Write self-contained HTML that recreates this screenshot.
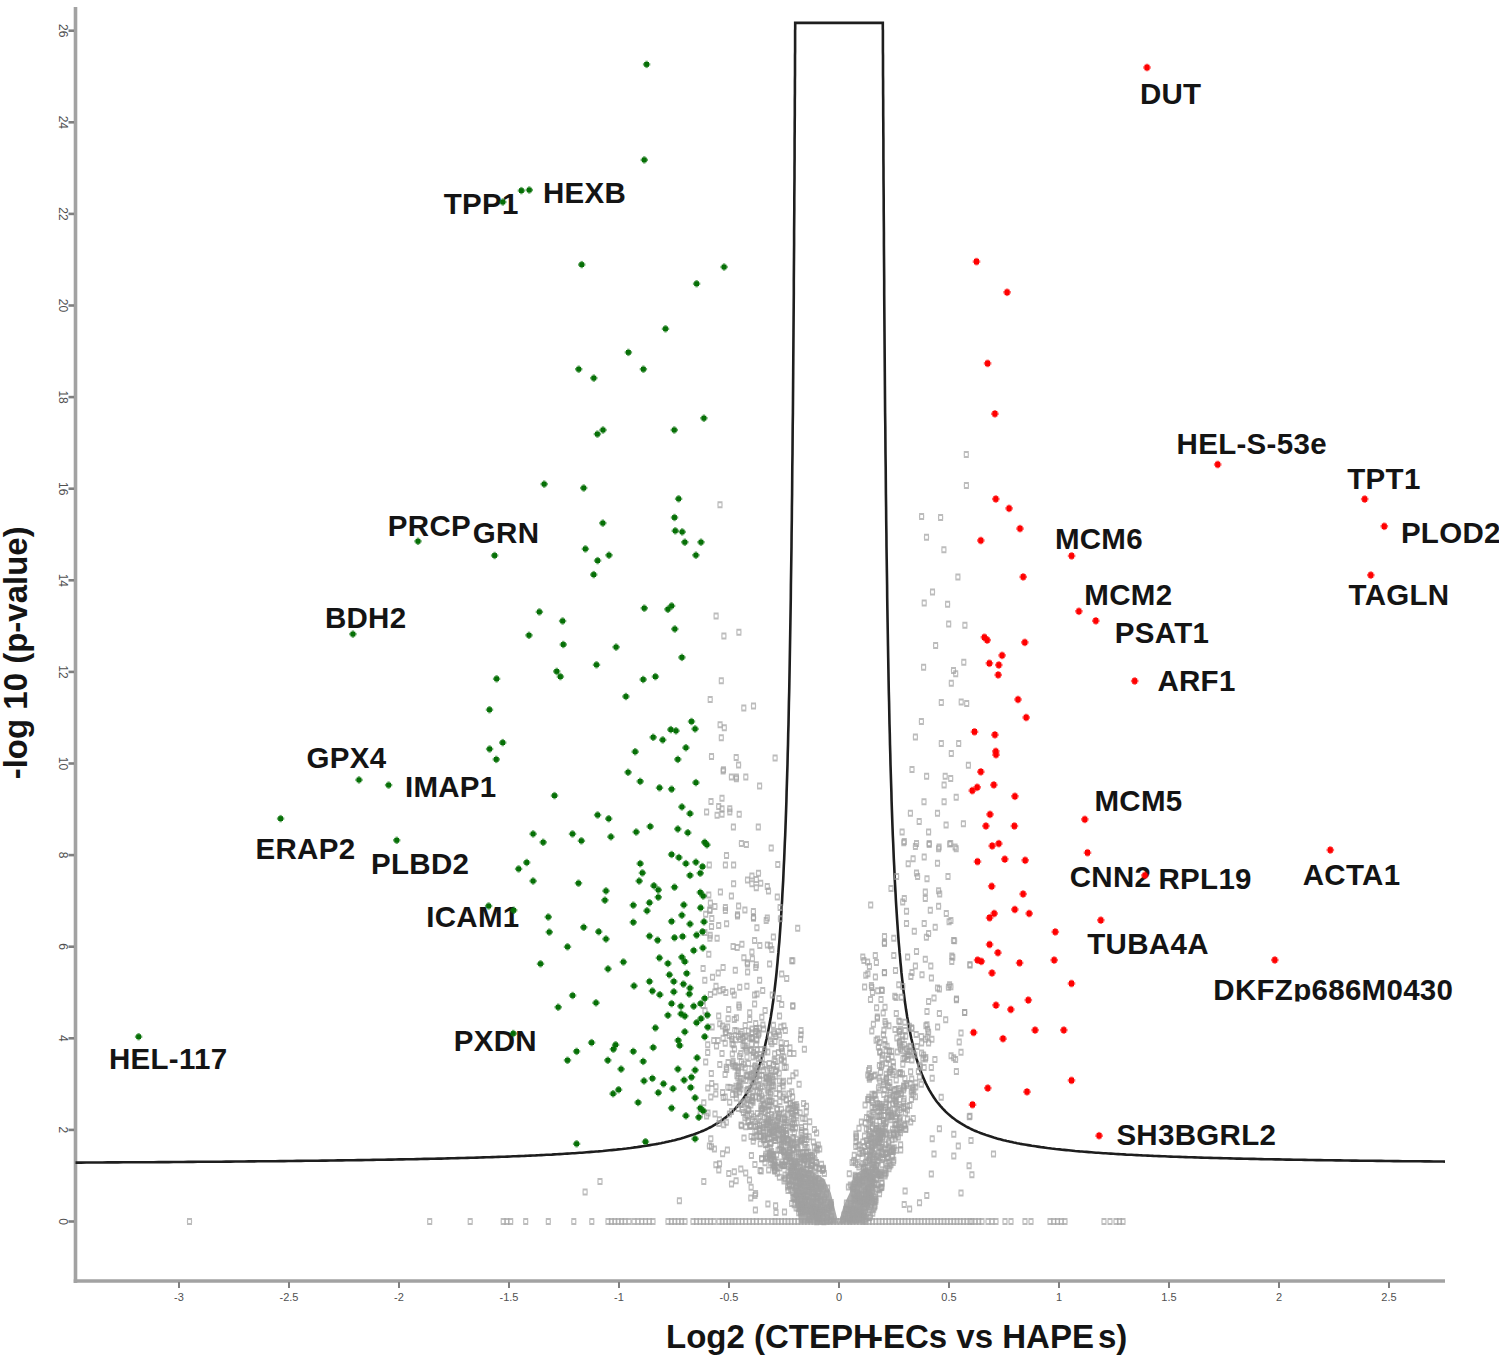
<!DOCTYPE html><html><head><meta charset="utf-8"><style>html,body{margin:0;padding:0;background:#fff;width:1499px;height:1358px;overflow:hidden}svg{display:block}text{font-family:"Liberation Sans",sans-serif}</style></head><body>
<svg width="1499" height="1358" viewBox="0 0 1499 1358">
<defs><g id="g"><rect x="-2.4" y="-2.4" width="4.8" height="4.8"/><rect x="-3.7" y="-1.2" width="7.4" height="2.4" opacity="0.6"/><rect x="-1.2" y="-3.7" width="2.4" height="7.4" opacity="0.6"/></g><g id="r"><rect x="-2.5" y="-2.8" width="5" height="5.6"/><rect x="-3.8" y="-1.3" width="7.6" height="2.6" opacity="0.6"/><rect x="-1.3" y="-3.8" width="2.6" height="7.6" opacity="0.6"/></g><path id="o" d="M-2.5,-3.5h5v2h-5z M-2.5,1.5h5v2h-5z M-2.6,-1.5h1.2v3h-1.2z M1.4,-1.5h1.2v3h-1.2z"/><clipPath id="clp"><rect x="1200" y="960" width="299" height="41.5"/></clipPath></defs>
<g stroke="#a2a2a2" stroke-width="3.6" fill="none">
<line x1="75.5" y1="7" x2="75.5" y2="1283"/>
<line x1="73.7" y1="1281" x2="1445" y2="1281"/>
</g>
<g stroke="#808080" stroke-width="2.6">
<line x1="68.5" y1="1221.5" x2="74" y2="1221.5"/>
<line x1="68.5" y1="1129.9" x2="74" y2="1129.9"/>
<line x1="68.5" y1="1038.3" x2="74" y2="1038.3"/>
<line x1="68.5" y1="946.7" x2="74" y2="946.7"/>
<line x1="68.5" y1="855.1" x2="74" y2="855.1"/>
<line x1="68.5" y1="763.5" x2="74" y2="763.5"/>
<line x1="68.5" y1="671.9" x2="74" y2="671.9"/>
<line x1="68.5" y1="580.3" x2="74" y2="580.3"/>
<line x1="68.5" y1="488.7" x2="74" y2="488.7"/>
<line x1="68.5" y1="397.1" x2="74" y2="397.1"/>
<line x1="68.5" y1="305.5" x2="74" y2="305.5"/>
<line x1="68.5" y1="213.9" x2="74" y2="213.9"/>
<line x1="68.5" y1="122.3" x2="74" y2="122.3"/>
<line x1="68.5" y1="30.7" x2="74" y2="30.7"/>
<line x1="179.0" y1="1282" x2="179.0" y2="1288" stroke-width="2"/>
<line x1="289.0" y1="1282" x2="289.0" y2="1288" stroke-width="2"/>
<line x1="399.0" y1="1282" x2="399.0" y2="1288" stroke-width="2"/>
<line x1="509.0" y1="1282" x2="509.0" y2="1288" stroke-width="2"/>
<line x1="619.0" y1="1282" x2="619.0" y2="1288" stroke-width="2"/>
<line x1="729.0" y1="1282" x2="729.0" y2="1288" stroke-width="2"/>
<line x1="839.0" y1="1282" x2="839.0" y2="1288" stroke-width="2"/>
<line x1="949.0" y1="1282" x2="949.0" y2="1288" stroke-width="2"/>
<line x1="1059.0" y1="1282" x2="1059.0" y2="1288" stroke-width="2"/>
<line x1="1169.0" y1="1282" x2="1169.0" y2="1288" stroke-width="2"/>
<line x1="1279.0" y1="1282" x2="1279.0" y2="1288" stroke-width="2"/>
<line x1="1389.0" y1="1282" x2="1389.0" y2="1288" stroke-width="2"/>
</g>
<g font-size="11" fill="#505050">
<text transform="translate(59,1221.5) rotate(90)" text-anchor="middle" font-size="12">0</text>
<text transform="translate(59,1129.9) rotate(90)" text-anchor="middle" font-size="12">2</text>
<text transform="translate(59,1038.3) rotate(90)" text-anchor="middle" font-size="12">4</text>
<text transform="translate(59,946.7) rotate(90)" text-anchor="middle" font-size="12">6</text>
<text transform="translate(59,855.1) rotate(90)" text-anchor="middle" font-size="12">8</text>
<text transform="translate(59,763.5) rotate(90)" text-anchor="middle" font-size="12">10</text>
<text transform="translate(59,671.9) rotate(90)" text-anchor="middle" font-size="12">12</text>
<text transform="translate(59,580.3) rotate(90)" text-anchor="middle" font-size="12">14</text>
<text transform="translate(59,488.7) rotate(90)" text-anchor="middle" font-size="12">16</text>
<text transform="translate(59,397.1) rotate(90)" text-anchor="middle" font-size="12">18</text>
<text transform="translate(59,305.5) rotate(90)" text-anchor="middle" font-size="12">20</text>
<text transform="translate(59,213.9) rotate(90)" text-anchor="middle" font-size="12">22</text>
<text transform="translate(59,122.3) rotate(90)" text-anchor="middle" font-size="12">24</text>
<text transform="translate(59,30.7) rotate(90)" text-anchor="middle" font-size="12">26</text>
<text x="179.0" y="1301" text-anchor="middle">-3</text>
<text x="289.0" y="1301" text-anchor="middle">-2.5</text>
<text x="399.0" y="1301" text-anchor="middle">-2</text>
<text x="509.0" y="1301" text-anchor="middle">-1.5</text>
<text x="619.0" y="1301" text-anchor="middle">-1</text>
<text x="729.0" y="1301" text-anchor="middle">-0.5</text>
<text x="839.0" y="1301" text-anchor="middle">0</text>
<text x="949.0" y="1301" text-anchor="middle">0.5</text>
<text x="1059.0" y="1301" text-anchor="middle">1</text>
<text x="1169.0" y="1301" text-anchor="middle">1.5</text>
<text x="1279.0" y="1301" text-anchor="middle">2</text>
<text x="1389.0" y="1301" text-anchor="middle">2.5</text>
</g>
<path d="M75.5,1162.6 L75.6,1162.6 L81.0,1162.6 L86.4,1162.5 L91.7,1162.5 L97.0,1162.5 L102.3,1162.5 L107.6,1162.4 L112.8,1162.4 L118.0,1162.4 L123.2,1162.3 L128.4,1162.3 L133.5,1162.3 L138.6,1162.2 L143.7,1162.2 L148.7,1162.2 L153.7,1162.2 L158.7,1162.1 L163.7,1162.1 L168.7,1162.1 L173.6,1162.0 L178.5,1162.0 L183.3,1162.0 L188.2,1161.9 L193.0,1161.9 L197.8,1161.8 L202.6,1161.8 L207.3,1161.8 L212.0,1161.7 L216.7,1161.7 L221.4,1161.7 L226.0,1161.6 L230.6,1161.6 L235.2,1161.5 L239.8,1161.5 L244.3,1161.5 L248.8,1161.4 L253.3,1161.4 L257.8,1161.3 L262.2,1161.3 L266.7,1161.2 L271.0,1161.2 L275.4,1161.2 L279.8,1161.1 L284.1,1161.1 L288.4,1161.0 L292.6,1161.0 L296.9,1160.9 L301.1,1160.9 L305.3,1160.8 L309.5,1160.8 L313.6,1160.7 L317.8,1160.7 L321.9,1160.6 L325.9,1160.6 L330.0,1160.5 L334.0,1160.5 L338.0,1160.4 L342.0,1160.4 L346.0,1160.3 L349.9,1160.3 L353.9,1160.2 L357.7,1160.1 L361.6,1160.1 L365.5,1160.0 L369.3,1160.0 L373.1,1159.9 L376.9,1159.8 L380.6,1159.8 L384.4,1159.7 L388.1,1159.6 L391.8,1159.6 L395.4,1159.5 L399.1,1159.4 L402.7,1159.4 L406.3,1159.3 L409.9,1159.2 L413.4,1159.2 L417.0,1159.1 L420.5,1159.0 L424.0,1158.9 L427.4,1158.9 L430.9,1158.8 L434.3,1158.7 L437.7,1158.6 L441.1,1158.6 L444.5,1158.5 L447.8,1158.4 L451.1,1158.3 L454.4,1158.2 L457.7,1158.1 L461.0,1158.0 L464.2,1158.0 L467.4,1157.9 L470.6,1157.8 L473.8,1157.7 L476.9,1157.6 L480.0,1157.5 L483.2,1157.4 L486.2,1157.3 L489.3,1157.2 L492.4,1157.1 L495.4,1157.0 L498.4,1156.9 L501.4,1156.8 L504.4,1156.7 L507.3,1156.6 L510.2,1156.5 L513.1,1156.3 L516.0,1156.2 L518.9,1156.1 L521.7,1156.0 L524.6,1155.9 L527.4,1155.7 L530.2,1155.6 L532.9,1155.5 L535.7,1155.4 L538.4,1155.2 L541.1,1155.1 L543.8,1155.0 L546.5,1154.8 L549.2,1154.7 L551.8,1154.6 L554.4,1154.4 L557.0,1154.3 L559.6,1154.1 L562.1,1154.0 L564.7,1153.8 L567.2,1153.6 L569.7,1153.5 L572.2,1153.3 L574.7,1153.2 L577.1,1153.0 L579.6,1152.8 L582.0,1152.7 L584.4,1152.5 L586.7,1152.3 L589.1,1152.1 L591.4,1151.9 L593.8,1151.7 L596.1,1151.5 L598.4,1151.4 L600.6,1151.2 L602.9,1151.0 L605.1,1150.7 L607.3,1150.5 L609.5,1150.3 L611.7,1150.1 L613.9,1149.9 L616.0,1149.7 L618.2,1149.4 L620.3,1149.2 L622.4,1149.0 L624.5,1148.7 L626.5,1148.5 L628.6,1148.2 L630.6,1148.0 L632.6,1147.7 L634.6,1147.4 L636.6,1147.2 L638.6,1146.9 L640.5,1146.6 L642.5,1146.3 L644.4,1146.0 L646.3,1145.8 L648.2,1145.4 L650.0,1145.1 L651.9,1144.8 L653.7,1144.5 L655.5,1144.2 L657.3,1143.9 L659.1,1143.5 L660.9,1143.2 L662.7,1142.8 L664.4,1142.5 L666.1,1142.1 L667.9,1141.7 L669.6,1141.3 L671.2,1141.0 L672.9,1140.6 L674.6,1140.2 L676.2,1139.7 L677.8,1139.3 L679.4,1138.9 L681.0,1138.5 L682.6,1138.0 L684.2,1137.6 L685.7,1137.1 L687.2,1136.6 L688.8,1136.1 L690.3,1135.6 L691.8,1135.1 L693.2,1134.6 L694.7,1134.1 L696.1,1133.5 L697.6,1133.0 L699.0,1132.4 L700.4,1131.9 L701.8,1131.3 L703.2,1130.7 L704.6,1130.1 L705.9,1129.5 L707.2,1128.8 L708.6,1128.2 L709.9,1127.5 L711.2,1126.8 L712.5,1126.1 L713.7,1125.4 L715.0,1124.7 L716.2,1123.9 L717.5,1123.2 L718.7,1122.4 L719.9,1121.6 L721.1,1120.8 L722.3,1120.0 L723.5,1119.1 L724.6,1118.2 L725.8,1117.4 L726.9,1116.4 L728.0,1115.5 L729.1,1114.6 L730.2,1113.6 L731.3,1112.6 L732.4,1111.6 L733.4,1110.5 L734.5,1109.4 L735.5,1108.4 L736.5,1107.2 L737.5,1106.1 L738.5,1104.9 L739.5,1103.7 L740.5,1102.5 L741.5,1101.2 L742.4,1099.9 L743.4,1098.6 L744.3,1097.2 L745.2,1095.8 L746.1,1094.4 L747.0,1092.9 L747.9,1091.4 L748.8,1089.9 L749.6,1088.3 L750.5,1086.7 L751.3,1085.0 L752.2,1083.3 L753.0,1081.6 L753.8,1079.8 L754.6,1078.0 L755.4,1076.1 L756.2,1074.2 L756.9,1072.2 L757.7,1070.2 L758.5,1068.1 L759.2,1066.0 L759.9,1063.8 L760.6,1061.5 L761.4,1059.2 L762.1,1056.9 L762.7,1054.4 L763.4,1051.9 L764.1,1049.4 L764.8,1046.8 L765.4,1044.1 L766.0,1041.3 L766.7,1038.5 L767.3,1035.6 L767.9,1032.6 L768.5,1029.5 L769.1,1026.3 L769.7,1023.1 L770.3,1019.8 L770.9,1016.4 L771.4,1012.9 L772.0,1009.3 L772.5,1005.6 L773.1,1001.8 L773.6,997.9 L774.1,993.9 L774.6,989.8 L775.1,985.5 L775.6,981.2 L776.1,976.8 L776.6,972.2 L777.0,967.5 L777.5,962.7 L777.9,957.7 L778.4,952.7 L778.8,947.5 L779.3,942.1 L779.7,936.6 L780.1,931.0 L780.5,925.2 L780.9,919.3 L781.3,913.2 L781.7,906.9 L782.1,900.5 L782.4,894.0 L782.8,887.2 L783.2,880.3 L783.5,873.3 L783.8,866.0 L784.2,858.6 L784.5,851.0 L784.8,843.2 L785.2,835.2 L785.5,827.0 L785.8,818.6 L786.1,810.1 L786.4,801.3 L786.6,792.4 L786.9,783.2 L787.2,773.9 L787.5,764.3 L787.7,754.6 L788.0,744.6 L788.2,734.4 L788.5,724.1 L788.7,713.5 L788.9,702.8 L789.2,691.8 L789.4,680.7 L789.6,669.4 L789.8,657.8 L790.0,646.1 L790.2,634.3 L790.4,622.2 L790.6,610.0 L790.8,597.6 L790.9,585.1 L791.1,572.4 L791.3,559.6 L791.5,546.7 L791.6,533.6 L791.8,520.4 L791.9,507.2 L792.1,493.8 L792.2,480.4 L792.3,466.9 L792.5,453.4 L792.6,439.9 L792.7,426.3 L792.9,412.7 L793.0,399.2 L793.1,385.7 L793.2,372.2 L793.3,358.8 L793.4,345.5 L793.5,332.3 L793.6,319.3 L793.7,306.3 L793.8,293.5 L793.8,280.9 L793.9,268.5 L794.0,256.3 L794.1,244.3 L794.1,232.6 L794.2,221.1 L794.3,209.8 L794.3,198.9 L794.4,188.2 L794.5,177.9 L794.5,167.9 L794.6,158.2 L794.6,148.8 L794.6,139.8 L794.7,131.2 L794.7,122.9 L794.8,114.9 L794.8,107.4 L794.8,100.2 L794.9,93.3 L794.9,86.9 L794.9,80.8 L795.0,75.0 L795.0,69.7 L795.0,64.6 L795.0,60.0 L795.0,55.6 L795.1,51.7 L795.1,48.0 L795.1,44.6 L795.1,41.6 L795.1,38.8 L795.1,36.3 L795.1,34.1 L795.1,32.2 L795.1,30.4 L795.2,29.0 L795.2,27.7 L795.2,26.6 L795.2,25.7 L795.2,24.9 L795.2,24.3 L795.2,23.9 L795.2,23.5 L795.2,23.3 L795.2,23.1 L795.2,23.0 L795.2,22.9 L795.2,22.9 L795.2,22.9 L882.8,22.9 L882.8,22.9 L882.8,22.9 L882.8,23.0 L882.8,23.1 L882.8,23.3 L882.8,23.5 L882.8,23.9 L882.8,24.3 L882.8,24.9 L882.8,25.7 L882.8,26.6 L882.8,27.7 L882.8,29.0 L882.9,30.4 L882.9,32.2 L882.9,34.1 L882.9,36.3 L882.9,38.8 L882.9,41.6 L882.9,44.6 L882.9,48.0 L882.9,51.7 L883.0,55.6 L883.0,60.0 L883.0,64.6 L883.0,69.7 L883.0,75.0 L883.1,80.8 L883.1,86.9 L883.1,93.3 L883.2,100.2 L883.2,107.4 L883.2,114.9 L883.3,122.9 L883.3,131.2 L883.4,139.8 L883.4,148.8 L883.4,158.2 L883.5,167.9 L883.5,177.9 L883.6,188.2 L883.7,198.9 L883.7,209.8 L883.8,221.1 L883.9,232.6 L883.9,244.3 L884.0,256.3 L884.1,268.5 L884.2,280.9 L884.2,293.5 L884.3,306.3 L884.4,319.3 L884.5,332.3 L884.6,345.5 L884.7,358.8 L884.8,372.2 L884.9,385.7 L885.0,399.2 L885.1,412.7 L885.3,426.3 L885.4,439.9 L885.5,453.4 L885.7,466.9 L885.8,480.4 L885.9,493.8 L886.1,507.2 L886.2,520.4 L886.4,533.6 L886.5,546.7 L886.7,559.6 L886.9,572.4 L887.1,585.1 L887.2,597.6 L887.4,610.0 L887.6,622.2 L887.8,634.3 L888.0,646.1 L888.2,657.8 L888.4,669.4 L888.6,680.7 L888.8,691.8 L889.1,702.8 L889.3,713.5 L889.5,724.1 L889.8,734.4 L890.0,744.6 L890.3,754.6 L890.5,764.3 L890.8,773.9 L891.1,783.2 L891.4,792.4 L891.6,801.3 L891.9,810.1 L892.2,818.6 L892.5,827.0 L892.8,835.2 L893.2,843.2 L893.5,851.0 L893.8,858.6 L894.2,866.0 L894.5,873.3 L894.8,880.3 L895.2,887.2 L895.6,894.0 L895.9,900.5 L896.3,906.9 L896.7,913.2 L897.1,919.3 L897.5,925.2 L897.9,931.0 L898.3,936.6 L898.7,942.1 L899.2,947.5 L899.6,952.7 L900.1,957.7 L900.5,962.7 L901.0,967.5 L901.4,972.2 L901.9,976.8 L902.4,981.2 L902.9,985.5 L903.4,989.8 L903.9,993.9 L904.4,997.9 L904.9,1001.8 L905.5,1005.6 L906.0,1009.3 L906.6,1012.9 L907.1,1016.4 L907.7,1019.8 L908.3,1023.1 L908.9,1026.3 L909.5,1029.5 L910.1,1032.6 L910.7,1035.6 L911.3,1038.5 L912.0,1041.3 L912.6,1044.1 L913.2,1046.8 L913.9,1049.4 L914.6,1051.9 L915.3,1054.4 L915.9,1056.9 L916.6,1059.2 L917.4,1061.5 L918.1,1063.8 L918.8,1066.0 L919.5,1068.1 L920.3,1070.2 L921.1,1072.2 L921.8,1074.2 L922.6,1076.1 L923.4,1078.0 L924.2,1079.8 L925.0,1081.6 L925.8,1083.3 L926.7,1085.0 L927.5,1086.7 L928.4,1088.3 L929.2,1089.9 L930.1,1091.4 L931.0,1092.9 L931.9,1094.4 L932.8,1095.8 L933.7,1097.2 L934.6,1098.6 L935.6,1099.9 L936.5,1101.2 L937.5,1102.5 L938.5,1103.7 L939.5,1104.9 L940.5,1106.1 L941.5,1107.2 L942.5,1108.4 L943.5,1109.4 L944.6,1110.5 L945.6,1111.6 L946.7,1112.6 L947.8,1113.6 L948.9,1114.6 L950.0,1115.5 L951.1,1116.4 L952.2,1117.4 L953.4,1118.2 L954.5,1119.1 L955.7,1120.0 L956.9,1120.8 L958.1,1121.6 L959.3,1122.4 L960.5,1123.2 L961.8,1123.9 L963.0,1124.7 L964.3,1125.4 L965.5,1126.1 L966.8,1126.8 L968.1,1127.5 L969.4,1128.2 L970.8,1128.8 L972.1,1129.5 L973.4,1130.1 L974.8,1130.7 L976.2,1131.3 L977.6,1131.9 L979.0,1132.4 L980.4,1133.0 L981.9,1133.5 L983.3,1134.1 L984.8,1134.6 L986.2,1135.1 L987.7,1135.6 L989.2,1136.1 L990.8,1136.6 L992.3,1137.1 L993.8,1137.6 L995.4,1138.0 L997.0,1138.5 L998.6,1138.9 L1000.2,1139.3 L1001.8,1139.7 L1003.4,1140.2 L1005.1,1140.6 L1006.8,1141.0 L1008.4,1141.3 L1010.1,1141.7 L1011.9,1142.1 L1013.6,1142.5 L1015.3,1142.8 L1017.1,1143.2 L1018.9,1143.5 L1020.7,1143.9 L1022.5,1144.2 L1024.3,1144.5 L1026.1,1144.8 L1028.0,1145.1 L1029.8,1145.4 L1031.7,1145.8 L1033.6,1146.0 L1035.5,1146.3 L1037.5,1146.6 L1039.4,1146.9 L1041.4,1147.2 L1043.4,1147.4 L1045.4,1147.7 L1047.4,1148.0 L1049.4,1148.2 L1051.5,1148.5 L1053.5,1148.7 L1055.6,1149.0 L1057.7,1149.2 L1059.8,1149.4 L1062.0,1149.7 L1064.1,1149.9 L1066.3,1150.1 L1068.5,1150.3 L1070.7,1150.5 L1072.9,1150.7 L1075.1,1151.0 L1077.4,1151.2 L1079.6,1151.4 L1081.9,1151.5 L1084.2,1151.7 L1086.6,1151.9 L1088.9,1152.1 L1091.3,1152.3 L1093.6,1152.5 L1096.0,1152.7 L1098.4,1152.8 L1100.9,1153.0 L1103.3,1153.2 L1105.8,1153.3 L1108.3,1153.5 L1110.8,1153.6 L1113.3,1153.8 L1115.9,1154.0 L1118.4,1154.1 L1121.0,1154.3 L1123.6,1154.4 L1126.2,1154.6 L1128.8,1154.7 L1131.5,1154.8 L1134.2,1155.0 L1136.9,1155.1 L1139.6,1155.2 L1142.3,1155.4 L1145.1,1155.5 L1147.8,1155.6 L1150.6,1155.7 L1153.4,1155.9 L1156.3,1156.0 L1159.1,1156.1 L1162.0,1156.2 L1164.9,1156.3 L1167.8,1156.5 L1170.7,1156.6 L1173.6,1156.7 L1176.6,1156.8 L1179.6,1156.9 L1182.6,1157.0 L1185.6,1157.1 L1188.7,1157.2 L1191.8,1157.3 L1194.8,1157.4 L1198.0,1157.5 L1201.1,1157.6 L1204.2,1157.7 L1207.4,1157.8 L1210.6,1157.9 L1213.8,1158.0 L1217.0,1158.0 L1220.3,1158.1 L1223.6,1158.2 L1226.9,1158.3 L1230.2,1158.4 L1233.5,1158.5 L1236.9,1158.6 L1240.3,1158.6 L1243.7,1158.7 L1247.1,1158.8 L1250.6,1158.9 L1254.0,1158.9 L1257.5,1159.0 L1261.0,1159.1 L1264.6,1159.2 L1268.1,1159.2 L1271.7,1159.3 L1275.3,1159.4 L1278.9,1159.4 L1282.6,1159.5 L1286.2,1159.6 L1289.9,1159.6 L1293.6,1159.7 L1297.4,1159.8 L1301.1,1159.8 L1304.9,1159.9 L1308.7,1160.0 L1312.5,1160.0 L1316.4,1160.1 L1320.3,1160.1 L1324.1,1160.2 L1328.1,1160.3 L1332.0,1160.3 L1336.0,1160.4 L1340.0,1160.4 L1344.0,1160.5 L1348.0,1160.5 L1352.1,1160.6 L1356.1,1160.6 L1360.2,1160.7 L1364.4,1160.7 L1368.5,1160.8 L1372.7,1160.8 L1376.9,1160.9 L1381.1,1160.9 L1385.4,1161.0 L1389.6,1161.0 L1393.9,1161.1 L1398.2,1161.1 L1402.6,1161.2 L1407.0,1161.2 L1411.3,1161.2 L1415.8,1161.3 L1420.2,1161.3 L1424.7,1161.4 L1429.2,1161.4 L1433.7,1161.5 L1438.2,1161.5 L1442.8,1161.5 L1445.0,1161.6" fill="none" stroke="#1e1e1e" stroke-width="2.6"/>
<g font-size="29.5" font-weight="bold" fill="#141414" letter-spacing="0.3">
<text x="1139.9" y="104.0">DUT</text>
<text x="443.7" y="214.3">TPP1</text>
<text x="543.0" y="203.4">HEXB</text>
<text x="1176.6" y="453.9">HEL-S-53e</text>
<text x="1347.3" y="489.0">TPT1</text>
<text x="1400.9" y="543.2">PLOD2</text>
<text x="1348.5" y="605.4">TAGLN</text>
<text x="387.8" y="535.9">PRCP</text>
<text x="472.8" y="543.0">GRN</text>
<text x="324.9" y="627.5">BDH2</text>
<text x="1054.9" y="548.9">MCM6</text>
<text x="1084.3" y="605.1">MCM2</text>
<text x="1114.8" y="642.8">PSAT1</text>
<text x="1157.4" y="691.2">ARF1</text>
<text x="306.6" y="768.1">GPX4</text>
<text x="404.9" y="796.7">IMAP1</text>
<text x="255.5" y="858.7">ERAP2</text>
<text x="371.0" y="874.1">PLBD2</text>
<text x="426.2" y="927.3">ICAM1</text>
<text x="1094.5" y="810.6">MCM5</text>
<text x="1069.7" y="886.9">CNN2</text>
<text x="1158.5" y="889.3">RPL19</text>
<text x="1302.7" y="884.7">ACTA1</text>
<text x="1087.3" y="954.1">TUBA4A</text>
<text x="1213.3" y="999.5" clip-path="url(#clp)">DKFZp686M0430</text>
<text x="108.9" y="1069.0">HEL-117</text>
<text x="453.8" y="1050.8">PXDN</text>
<text x="1116.4" y="1144.8">SH3BGRL2</text>
</g>
<text y="1348" font-size="33" font-weight="bold" fill="#141414"><tspan x="666.0">Log2 (CTEPH</tspan><tspan x="872.0">-ECs vs HAPE</tspan><tspan x="1098.0">s)</tspan></text>
<text transform="translate(26.5,652.8) rotate(-90)" text-anchor="middle" font-size="33" font-weight="bold" fill="#141414">-log 10 (p-value)</text>
<path d="M791.7,1182.0 L800.4,1166.4 L811.6,1171.6 L823.8,1178.6 L830.7,1192.4 L835.9,1213.3 L838.5,1223.5 L799.5,1223.5 L796.0,1203.7 Z" fill="#aaaaaa"/>
<path d="M843.7,1205.5 L849.8,1192.4 L853.3,1175.1 L863.7,1169.0 L874.1,1175.1 L875.8,1190.7 L866.3,1216.7 L865.4,1223.5 L838.5,1223.5 Z" fill="#aaaaaa"/>
<g fill="#a0a0a0" fill-opacity="0.7">
<use href="#o" x="720.0" y="504.8"/>
<use href="#o" x="716.1" y="616.0"/>
<use href="#o" x="723.9" y="635.9"/>
<use href="#o" x="738.9" y="632.2"/>
<use href="#o" x="966.3" y="454.6"/>
<use href="#o" x="966.4" y="485.5"/>
<use href="#o" x="921.6" y="516.4"/>
<use href="#o" x="940.6" y="517.6"/>
<use href="#o" x="926.5" y="537.2"/>
<use href="#o" x="943.9" y="549.8"/>
<use href="#o" x="957.9" y="577.1"/>
<use href="#o" x="932.5" y="592.0"/>
<use href="#o" x="924.2" y="603.1"/>
<use href="#o" x="947.6" y="604.2"/>
<use href="#o" x="948.7" y="623.9"/>
<use href="#o" x="964.9" y="625.2"/>
<use href="#o" x="935.6" y="645.6"/>
<use href="#o" x="963.8" y="662.2"/>
<use href="#o" x="923.6" y="667.2"/>
<use href="#o" x="953.5" y="670.5"/>
<use href="#o" x="955.7" y="673.8"/>
<use href="#o" x="951.3" y="683.2"/>
<use href="#o" x="941.3" y="702.5"/>
<use href="#o" x="961.2" y="702.0"/>
<use href="#o" x="966.7" y="703.6"/>
<use href="#o" x="921.4" y="721.5"/>
<use href="#o" x="915.4" y="737.0"/>
<use href="#o" x="941.3" y="743.6"/>
<use href="#o" x="958.7" y="743.6"/>
<use href="#o" x="951.3" y="753.6"/>
<use href="#o" x="968.4" y="765.2"/>
<use href="#o" x="912.0" y="769.6"/>
<use href="#o" x="926.6" y="776.2"/>
<use href="#o" x="945.2" y="776.2"/>
<use href="#o" x="950.7" y="778.5"/>
<use href="#o" x="944.1" y="785.1"/>
<use href="#o" x="956.2" y="797.2"/>
<use href="#o" x="924.0" y="801.7"/>
<use href="#o" x="944.1" y="801.7"/>
<use href="#o" x="910.4" y="813.3"/>
<use href="#o" x="937.5" y="813.3"/>
<use href="#o" x="919.2" y="821.5"/>
<use href="#o" x="946.1" y="824.9"/>
<use href="#o" x="963.4" y="823.8"/>
<use href="#o" x="902.1" y="832.0"/>
<use href="#o" x="928.6" y="832.0"/>
<use href="#o" x="904.3" y="841.4"/>
<use href="#o" x="916.5" y="843.6"/>
<use href="#o" x="929.2" y="843.6"/>
<use href="#o" x="939.1" y="847.0"/>
<use href="#o" x="950.7" y="843.6"/>
<use href="#o" x="955.1" y="847.0"/>
<use href="#o" x="721.3" y="680.8"/>
<use href="#o" x="710.2" y="699.6"/>
<use href="#o" x="743.8" y="707.9"/>
<use href="#o" x="753.5" y="706.0"/>
<use href="#o" x="720.1" y="724.8"/>
<use href="#o" x="724.3" y="727.8"/>
<use href="#o" x="721.3" y="737.7"/>
<use href="#o" x="711.5" y="756.5"/>
<use href="#o" x="736.2" y="757.6"/>
<use href="#o" x="738.6" y="765.0"/>
<use href="#o" x="775.1" y="758.0"/>
<use href="#o" x="723.5" y="769.8"/>
<use href="#o" x="731.4" y="777.0"/>
<use href="#o" x="736.4" y="777.0"/>
<use href="#o" x="745.8" y="777.0"/>
<use href="#o" x="723.1" y="771.1"/>
<use href="#o" x="736.4" y="778.8"/>
<use href="#o" x="759.6" y="786.0"/>
<use href="#o" x="711.0" y="801.5"/>
<use href="#o" x="722.0" y="798.2"/>
<use href="#o" x="718.7" y="806.5"/>
<use href="#o" x="722.0" y="808.7"/>
<use href="#o" x="729.8" y="808.7"/>
<use href="#o" x="706.6" y="812.0"/>
<use href="#o" x="717.1" y="815.3"/>
<use href="#o" x="722.0" y="814.2"/>
<use href="#o" x="729.8" y="812.0"/>
<use href="#o" x="739.2" y="814.2"/>
<use href="#o" x="733.4" y="826.9"/>
<use href="#o" x="758.3" y="826.9"/>
<use href="#o" x="741.4" y="843.5"/>
<use href="#o" x="746.4" y="844.6"/>
<use href="#o" x="771.2" y="847.9"/>
<use href="#o" x="726.5" y="855.6"/>
<use href="#o" x="709.3" y="865.0"/>
<use href="#o" x="725.4" y="865.0"/>
<use href="#o" x="733.6" y="865.0"/>
<use href="#o" x="777.8" y="864.5"/>
<use href="#o" x="758.5" y="873.3"/>
<use href="#o" x="751.9" y="876.1"/>
<use href="#o" x="747.5" y="879.9"/>
<use href="#o" x="756.3" y="879.4"/>
<use href="#o" x="760.7" y="883.3"/>
<use href="#o" x="751.9" y="883.8"/>
<use href="#o" x="767.3" y="886.6"/>
<use href="#o" x="756.3" y="887.7"/>
<use href="#o" x="768.5" y="891.0"/>
<use href="#o" x="733.6" y="883.8"/>
<use href="#o" x="720.4" y="892.1"/>
<use href="#o" x="731.4" y="896.0"/>
<use href="#o" x="708.8" y="894.9"/>
<use href="#o" x="777.3" y="897.1"/>
<use href="#o" x="710.4" y="903.1"/>
<use href="#o" x="714.9" y="906.5"/>
<use href="#o" x="709.9" y="909.8"/>
<use href="#o" x="725.4" y="907.6"/>
<use href="#o" x="738.6" y="905.9"/>
<use href="#o" x="737.5" y="914.8"/>
<use href="#o" x="753.5" y="917.5"/>
<use href="#o" x="767.3" y="918.1"/>
<use href="#o" x="709.9" y="910.6"/>
<use href="#o" x="725.4" y="910.6"/>
<use href="#o" x="737.5" y="916.1"/>
<use href="#o" x="753.5" y="918.3"/>
<use href="#o" x="766.2" y="920.5"/>
<use href="#o" x="711.5" y="926.6"/>
<use href="#o" x="718.7" y="925.5"/>
<use href="#o" x="756.9" y="927.7"/>
<use href="#o" x="797.7" y="928.2"/>
<use href="#o" x="709.9" y="938.2"/>
<use href="#o" x="717.1" y="938.2"/>
<use href="#o" x="773.4" y="937.1"/>
<use href="#o" x="754.6" y="940.4"/>
<use href="#o" x="733.1" y="946.5"/>
<use href="#o" x="741.9" y="944.3"/>
<use href="#o" x="751.9" y="952.0"/>
<use href="#o" x="708.8" y="954.2"/>
<use href="#o" x="723.1" y="967.5"/>
<use href="#o" x="718.2" y="973.0"/>
<use href="#o" x="735.3" y="970.2"/>
<use href="#o" x="747.5" y="964.1"/>
<use href="#o" x="756.3" y="964.7"/>
<use href="#o" x="769.6" y="964.1"/>
<use href="#o" x="791.7" y="960.8"/>
<use href="#o" x="781.7" y="974.1"/>
<use href="#o" x="786.7" y="978.5"/>
<use href="#o" x="759.6" y="980.2"/>
<use href="#o" x="716.0" y="986.2"/>
<use href="#o" x="723.1" y="989.6"/>
<use href="#o" x="732.5" y="991.2"/>
<use href="#o" x="739.7" y="987.3"/>
<use href="#o" x="746.9" y="986.2"/>
<use href="#o" x="710.4" y="994.5"/>
<use href="#o" x="734.2" y="995.1"/>
<use href="#o" x="754.6" y="995.1"/>
<use href="#o" x="772.3" y="995.1"/>
<use href="#o" x="779.0" y="998.4"/>
<use href="#o" x="754.6" y="1003.9"/>
<use href="#o" x="781.7" y="1004.5"/>
<use href="#o" x="792.8" y="1006.1"/>
<use href="#o" x="728.7" y="1009.4"/>
<use href="#o" x="739.2" y="1007.2"/>
<use href="#o" x="749.7" y="1012.8"/>
<use href="#o" x="718.7" y="1016.1"/>
<use href="#o" x="728.1" y="1018.8"/>
<use href="#o" x="736.4" y="1017.7"/>
<use href="#o" x="749.7" y="1019.4"/>
<use href="#o" x="761.8" y="1017.2"/>
<use href="#o" x="779.5" y="1016.1"/>
<use href="#o" x="719.8" y="1023.8"/>
<use href="#o" x="727.6" y="1027.1"/>
<use href="#o" x="745.2" y="1025.5"/>
<use href="#o" x="762.9" y="1024.9"/>
<use href="#o" x="783.9" y="1026.0"/>
<use href="#o" x="712.1" y="1027.1"/>
<use href="#o" x="725.4" y="1032.7"/>
<use href="#o" x="741.9" y="1031.5"/>
<use href="#o" x="751.9" y="1032.7"/>
<use href="#o" x="758.5" y="1034.9"/>
<use href="#o" x="778.4" y="1031.5"/>
<use href="#o" x="779.5" y="1034.9"/>
<use href="#o" x="723.1" y="1038.2"/>
<use href="#o" x="732.0" y="1039.3"/>
<use href="#o" x="743.0" y="1038.2"/>
<use href="#o" x="749.7" y="1038.2"/>
<use href="#o" x="713.8" y="1040.4"/>
<use href="#o" x="707.7" y="1044.8"/>
<use href="#o" x="716.5" y="1045.9"/>
<use href="#o" x="732.0" y="1043.7"/>
<use href="#o" x="756.3" y="1044.8"/>
<use href="#o" x="771.8" y="1043.7"/>
<use href="#o" x="707.7" y="1052.5"/>
<use href="#o" x="722.0" y="1053.6"/>
<use href="#o" x="740.8" y="1053.6"/>
<use href="#o" x="753.5" y="1052.5"/>
<use href="#o" x="778.4" y="1052.5"/>
<use href="#o" x="783.9" y="1057.0"/>
<use href="#o" x="793.9" y="1053.6"/>
<use href="#o" x="870.7" y="905.0"/>
<use href="#o" x="884.5" y="936.5"/>
<use href="#o" x="884.5" y="943.6"/>
<use href="#o" x="792.8" y="960.8"/>
<use href="#o" x="884.5" y="972.7"/>
<use href="#o" x="882.3" y="990.4"/>
<use href="#o" x="792.8" y="1006.1"/>
<use href="#o" x="885.0" y="1007.2"/>
<use href="#o" x="877.3" y="1017.1"/>
<use href="#o" x="885.0" y="1021.5"/>
<use href="#o" x="871.8" y="1030.9"/>
<use href="#o" x="801.0" y="1030.4"/>
<use href="#o" x="801.0" y="1034.8"/>
<use href="#o" x="800.5" y="1039.2"/>
<use href="#o" x="879.5" y="1042.5"/>
<use href="#o" x="878.4" y="1047.0"/>
<use href="#o" x="804.4" y="1049.2"/>
<use href="#o" x="903.8" y="842.8"/>
<use href="#o" x="915.4" y="846.6"/>
<use href="#o" x="929.2" y="844.4"/>
<use href="#o" x="938.6" y="848.8"/>
<use href="#o" x="949.6" y="843.9"/>
<use href="#o" x="956.2" y="848.8"/>
<use href="#o" x="913.1" y="858.8"/>
<use href="#o" x="908.2" y="863.8"/>
<use href="#o" x="924.2" y="857.1"/>
<use href="#o" x="937.5" y="863.2"/>
<use href="#o" x="916.5" y="873.1"/>
<use href="#o" x="917.6" y="876.5"/>
<use href="#o" x="927.0" y="878.7"/>
<use href="#o" x="948.0" y="876.5"/>
<use href="#o" x="896.6" y="876.5"/>
<use href="#o" x="891.0" y="888.6"/>
<use href="#o" x="925.3" y="891.9"/>
<use href="#o" x="938.6" y="890.8"/>
<use href="#o" x="939.7" y="894.1"/>
<use href="#o" x="925.3" y="898.6"/>
<use href="#o" x="904.3" y="898.6"/>
<use href="#o" x="902.7" y="901.9"/>
<use href="#o" x="906.5" y="911.3"/>
<use href="#o" x="930.3" y="910.2"/>
<use href="#o" x="938.6" y="906.3"/>
<use href="#o" x="946.3" y="913.5"/>
<use href="#o" x="949.1" y="921.8"/>
<use href="#o" x="906.5" y="923.4"/>
<use href="#o" x="924.2" y="923.4"/>
<use href="#o" x="914.3" y="931.2"/>
<use href="#o" x="935.2" y="927.3"/>
<use href="#o" x="928.6" y="933.4"/>
<use href="#o" x="926.4" y="937.2"/>
<use href="#o" x="953.5" y="940.6"/>
<use href="#o" x="884.4" y="942.8"/>
<use href="#o" x="893.8" y="938.3"/>
<use href="#o" x="916.5" y="951.6"/>
<use href="#o" x="893.8" y="955.5"/>
<use href="#o" x="907.6" y="957.1"/>
<use href="#o" x="925.3" y="959.3"/>
<use href="#o" x="951.8" y="956.0"/>
<use href="#o" x="951.8" y="961.5"/>
<use href="#o" x="970.0" y="964.9"/>
<use href="#o" x="915.4" y="966.0"/>
<use href="#o" x="930.8" y="966.0"/>
<use href="#o" x="895.5" y="970.4"/>
<use href="#o" x="884.4" y="972.6"/>
<use href="#o" x="912.0" y="972.6"/>
<use href="#o" x="922.0" y="974.8"/>
<use href="#o" x="910.9" y="976.5"/>
<use href="#o" x="931.4" y="978.1"/>
<use href="#o" x="898.8" y="984.8"/>
<use href="#o" x="937.5" y="988.1"/>
<use href="#o" x="949.6" y="984.8"/>
<use href="#o" x="950.9" y="920.5"/>
<use href="#o" x="954.6" y="940.8"/>
<use href="#o" x="952.8" y="957.3"/>
<use href="#o" x="969.9" y="964.7"/>
<use href="#o" x="950.9" y="986.8"/>
<use href="#o" x="956.4" y="999.7"/>
<use href="#o" x="964.7" y="1012.6"/>
<use href="#o" x="961.0" y="1032.9"/>
<use href="#o" x="959.2" y="1042.1"/>
<use href="#o" x="961.0" y="1052.2"/>
<use href="#o" x="953.7" y="1057.7"/>
<use href="#o" x="956.4" y="1071.5"/>
<use href="#o" x="969.3" y="1116.7"/>
<use href="#o" x="881.6" y="990.0"/>
<use href="#o" x="939.4" y="989.0"/>
<use href="#o" x="948.4" y="987.2"/>
<use href="#o" x="928.6" y="1001.6"/>
<use href="#o" x="934.0" y="998.0"/>
<use href="#o" x="956.5" y="998.9"/>
<use href="#o" x="964.6" y="1012.5"/>
<use href="#o" x="939.4" y="1013.4"/>
<use href="#o" x="945.7" y="1019.7"/>
<use href="#o" x="937.6" y="1026.9"/>
<use href="#o" x="928.6" y="1032.3"/>
<use href="#o" x="928.6" y="1043.1"/>
<use href="#o" x="951.1" y="1055.8"/>
<use href="#o" x="955.6" y="1059.4"/>
<use href="#o" x="934.9" y="1059.4"/>
<use href="#o" x="931.3" y="1067.5"/>
<use href="#o" x="932.2" y="1078.3"/>
<use href="#o" x="941.2" y="1097.3"/>
<use href="#o" x="970.0" y="1116.2"/>
<use href="#o" x="939.4" y="1128.8"/>
<use href="#o" x="953.8" y="1134.2"/>
<use href="#o" x="971.0" y="1140.6"/>
<use href="#o" x="958.3" y="1146.0"/>
<use href="#o" x="932.2" y="1138.8"/>
<use href="#o" x="934.0" y="1154.1"/>
<use href="#o" x="953.8" y="1155.9"/>
<use href="#o" x="993.5" y="1154.1"/>
<use href="#o" x="969.1" y="1165.8"/>
<use href="#o" x="971.9" y="1174.8"/>
<use href="#o" x="931.3" y="1173.9"/>
<use href="#o" x="961.0" y="1192.9"/>
<use href="#o" x="926.8" y="1195.6"/>
<use href="#o" x="919.5" y="1202.8"/>
<use href="#o" x="905.1" y="1191.1"/>
<use href="#o" x="904.2" y="1204.6"/>
<use href="#o" x="909.6" y="1209.1"/>
<use href="#o" x="600.0" y="1181.4"/>
<use href="#o" x="585.1" y="1192.0"/>
<use href="#o" x="679.4" y="1200.7"/>
<use href="#o" x="703.8" y="1181.4"/>
<use href="#o" x="710.8" y="1138.7"/>
<use href="#o" x="709.4" y="1146.0"/>
<use href="#o" x="718.8" y="1170.0"/>
<use href="#o" x="728.8" y="1173.4"/>
<use href="#o" x="736.1" y="1180.7"/>
<use href="#o" x="731.5" y="1184.0"/>
<use href="#o" x="749.5" y="1180.0"/>
<use href="#o" x="750.8" y="1198.0"/>
<use href="#o" x="726.6" y="923.8"/>
<use href="#o" x="753.4" y="911.4"/>
<use href="#o" x="743.9" y="957.8"/>
<use href="#o" x="704.8" y="980.2"/>
<use href="#o" x="703.1" y="968.5"/>
<use href="#o" x="705.7" y="914.3"/>
<use href="#o" x="734.8" y="1030.6"/>
<use href="#o" x="710.2" y="935.3"/>
<use href="#o" x="751.4" y="1049.7"/>
<use href="#o" x="747.3" y="962.7"/>
<use href="#o" x="780.1" y="907.4"/>
<use href="#o" x="770.4" y="945.8"/>
<use href="#o" x="711.8" y="918.6"/>
<use href="#o" x="725.3" y="1028.9"/>
<use href="#o" x="714.8" y="991.9"/>
<use href="#o" x="752.4" y="958.8"/>
<use href="#o" x="744.9" y="909.9"/>
<use href="#o" x="704.9" y="932.5"/>
<use href="#o" x="755.8" y="967.6"/>
<use href="#o" x="725.8" y="992.5"/>
<use href="#o" x="737.2" y="947.4"/>
<use href="#o" x="765.1" y="1010.4"/>
<use href="#o" x="720.0" y="990.8"/>
<use href="#o" x="743.1" y="1038.3"/>
<use href="#o" x="759.8" y="945.5"/>
<use href="#o" x="780.4" y="918.7"/>
<use href="#o" x="734.3" y="1019.6"/>
<use href="#o" x="712.5" y="977.3"/>
<use href="#o" x="703.2" y="1005.6"/>
<use href="#o" x="762.7" y="990.5"/>
<use href="#o" x="771.8" y="949.6"/>
<use href="#o" x="757.0" y="993.9"/>
<use href="#o" x="747.6" y="972.1"/>
<use href="#o" x="738.9" y="1004.9"/>
<use href="#o" x="705.0" y="1010.8"/>
<use href="#o" x="753.1" y="1056.9"/>
<use href="#o" x="767.4" y="945.0"/>
<use href="#o" x="877.4" y="1018.2"/>
<use href="#o" x="867.6" y="961.9"/>
<use href="#o" x="865.8" y="975.3"/>
<use href="#o" x="877.6" y="1038.9"/>
<use href="#o" x="884.7" y="1040.1"/>
<use href="#o" x="896.9" y="1038.1"/>
<use href="#o" x="872.5" y="992.4"/>
<use href="#o" x="876.1" y="1040.2"/>
<use href="#o" x="867.9" y="973.7"/>
<use href="#o" x="870.5" y="999.5"/>
<use href="#o" x="876.6" y="1007.8"/>
<use href="#o" x="883.2" y="1013.0"/>
<use href="#o" x="900.5" y="1029.6"/>
<use href="#o" x="899.4" y="1031.4"/>
<use href="#o" x="877.7" y="990.7"/>
<use href="#o" x="862.8" y="956.9"/>
<use href="#o" x="869.4" y="966.6"/>
<use href="#o" x="875.3" y="955.4"/>
<use href="#o" x="864.6" y="987.1"/>
<use href="#o" x="871.4" y="985.4"/>
<use href="#o" x="876.4" y="962.5"/>
<use href="#o" x="881.0" y="999.4"/>
<use href="#o" x="863.9" y="960.4"/>
<use href="#o" x="875.4" y="977.0"/>
<use href="#o" x="898.8" y="1021.0"/>
<use href="#o" x="871.8" y="987.4"/>
<use href="#o" x="911.6" y="1027.8"/>
<use href="#o" x="901.5" y="997.3"/>
<use href="#o" x="925.6" y="1039.2"/>
<use href="#o" x="927.6" y="1029.3"/>
<use href="#o" x="925.9" y="1025.7"/>
<use href="#o" x="896.3" y="1013.5"/>
<use href="#o" x="902.8" y="986.6"/>
<use href="#o" x="931.9" y="1039.3"/>
<use href="#o" x="896.0" y="997.5"/>
<use href="#o" x="894.8" y="996.2"/>
<use href="#o" x="916.2" y="1034.5"/>
<use href="#o" x="927.0" y="1011.4"/>
<use href="#o" x="729.4" y="1114.0"/>
<use href="#o" x="703.8" y="1102.8"/>
<use href="#o" x="733.8" y="1088.2"/>
<use href="#o" x="708.0" y="1113.1"/>
<use href="#o" x="715.0" y="1114.1"/>
<use href="#o" x="732.6" y="1063.6"/>
<use href="#o" x="705.7" y="1062.1"/>
<use href="#o" x="706.6" y="1116.1"/>
<use href="#o" x="715.8" y="1093.9"/>
<use href="#o" x="723.7" y="1124.7"/>
<use href="#o" x="719.5" y="1119.7"/>
<use href="#o" x="737.2" y="1066.9"/>
<use href="#o" x="711.3" y="1073.4"/>
<use href="#o" x="710.8" y="1096.9"/>
<use href="#o" x="711.7" y="1083.5"/>
<use href="#o" x="715.9" y="1086.7"/>
<use href="#o" x="726.3" y="1122.3"/>
<use href="#o" x="718.9" y="1123.4"/>
<use href="#o" x="722.6" y="1092.5"/>
<use href="#o" x="719.8" y="1064.6"/>
<use href="#o" x="700.2" y="1113.9"/>
<use href="#o" x="707.8" y="1087.9"/>
<use href="#o" x="732.6" y="1094.5"/>
<use href="#o" x="734.3" y="1171.7"/>
<use href="#o" x="755.0" y="1195.6"/>
<use href="#o" x="727.4" y="1149.9"/>
<use href="#o" x="774.5" y="1170.7"/>
<use href="#o" x="755.6" y="1193.4"/>
<use href="#o" x="760.1" y="1170.5"/>
<use href="#o" x="751.1" y="1187.3"/>
<use href="#o" x="745.7" y="1173.0"/>
<use href="#o" x="767.9" y="1203.9"/>
<use href="#o" x="755.4" y="1209.9"/>
<use href="#o" x="715.9" y="1164.8"/>
<use href="#o" x="711.5" y="1146.7"/>
<use href="#o" x="775.6" y="1205.7"/>
<use href="#o" x="764.4" y="1137.9"/>
<use href="#o" x="784.5" y="1212.1"/>
<use href="#o" x="740.8" y="1168.9"/>
<use href="#o" x="719.5" y="1163.8"/>
<use href="#o" x="751.4" y="1155.5"/>
<use href="#o" x="722.6" y="1153.7"/>
<use href="#o" x="754.9" y="1164.6"/>
<use href="#o" x="761.2" y="1171.1"/>
<use href="#o" x="776.0" y="1212.5"/>
<use href="#o" x="714.4" y="1148.9"/>
<use href="#o" x="755.7" y="1023.4"/>
<use href="#o" x="722.5" y="1025.9"/>
<use href="#o" x="773.4" y="1025.3"/>
<use href="#o" x="780.8" y="1027.0"/>
<use href="#o" x="752.0" y="1028.9"/>
<use href="#o" x="756.5" y="1028.4"/>
<use href="#o" x="759.2" y="1028.3"/>
<use href="#o" x="763.6" y="1029.0"/>
<use href="#o" x="736.7" y="1030.9"/>
<use href="#o" x="748.5" y="1031.0"/>
<use href="#o" x="755.6" y="1031.3"/>
<use href="#o" x="757.1" y="1031.4"/>
<use href="#o" x="785.3" y="1030.6"/>
<use href="#o" x="726.3" y="1032.4"/>
<use href="#o" x="759.0" y="1033.3"/>
<use href="#o" x="773.7" y="1032.0"/>
<use href="#o" x="729.3" y="1035.5"/>
<use href="#o" x="740.6" y="1034.3"/>
<use href="#o" x="769.8" y="1035.0"/>
<use href="#o" x="774.6" y="1034.0"/>
<use href="#o" x="731.6" y="1036.5"/>
<use href="#o" x="738.4" y="1036.4"/>
<use href="#o" x="744.8" y="1036.4"/>
<use href="#o" x="746.1" y="1036.1"/>
<use href="#o" x="751.5" y="1038.0"/>
<use href="#o" x="752.4" y="1037.9"/>
<use href="#o" x="775.9" y="1036.4"/>
<use href="#o" x="735.5" y="1039.8"/>
<use href="#o" x="740.5" y="1039.4"/>
<use href="#o" x="751.9" y="1038.0"/>
<use href="#o" x="756.5" y="1038.9"/>
<use href="#o" x="757.0" y="1039.9"/>
<use href="#o" x="718.0" y="1040.5"/>
<use href="#o" x="770.5" y="1041.6"/>
<use href="#o" x="774.9" y="1041.6"/>
<use href="#o" x="725.2" y="1043.2"/>
<use href="#o" x="781.1" y="1042.7"/>
<use href="#o" x="786.4" y="1043.5"/>
<use href="#o" x="733.2" y="1044.7"/>
<use href="#o" x="743.0" y="1045.6"/>
<use href="#o" x="744.3" y="1045.9"/>
<use href="#o" x="746.1" y="1045.9"/>
<use href="#o" x="751.6" y="1044.3"/>
<use href="#o" x="781.7" y="1048.0"/>
<use href="#o" x="789.9" y="1047.8"/>
<use href="#o" x="734.5" y="1049.0"/>
<use href="#o" x="745.8" y="1048.3"/>
<use href="#o" x="757.2" y="1049.8"/>
<use href="#o" x="760.8" y="1049.6"/>
<use href="#o" x="764.7" y="1049.5"/>
<use href="#o" x="781.3" y="1048.6"/>
<use href="#o" x="746.3" y="1050.2"/>
<use href="#o" x="750.8" y="1050.5"/>
<use href="#o" x="764.5" y="1051.8"/>
<use href="#o" x="782.4" y="1051.2"/>
<use href="#o" x="767.8" y="1052.0"/>
<use href="#o" x="774.7" y="1053.8"/>
<use href="#o" x="789.7" y="1053.4"/>
<use href="#o" x="732.3" y="1054.1"/>
<use href="#o" x="755.7" y="1055.8"/>
<use href="#o" x="756.4" y="1054.2"/>
<use href="#o" x="739.6" y="1056.3"/>
<use href="#o" x="747.0" y="1057.0"/>
<use href="#o" x="760.4" y="1057.4"/>
<use href="#o" x="758.4" y="1058.6"/>
<use href="#o" x="762.3" y="1058.5"/>
<use href="#o" x="774.2" y="1059.9"/>
<use href="#o" x="781.5" y="1058.9"/>
<use href="#o" x="733.1" y="1061.5"/>
<use href="#o" x="741.4" y="1061.7"/>
<use href="#o" x="775.3" y="1061.6"/>
<use href="#o" x="781.1" y="1060.3"/>
<use href="#o" x="784.2" y="1061.1"/>
<use href="#o" x="728.1" y="1062.5"/>
<use href="#o" x="748.4" y="1063.6"/>
<use href="#o" x="769.3" y="1063.6"/>
<use href="#o" x="733.1" y="1065.7"/>
<use href="#o" x="735.3" y="1065.7"/>
<use href="#o" x="743.5" y="1064.2"/>
<use href="#o" x="755.3" y="1065.8"/>
<use href="#o" x="764.7" y="1064.4"/>
<use href="#o" x="773.5" y="1064.5"/>
<use href="#o" x="726.3" y="1067.3"/>
<use href="#o" x="735.0" y="1067.0"/>
<use href="#o" x="738.4" y="1067.3"/>
<use href="#o" x="741.9" y="1067.1"/>
<use href="#o" x="754.7" y="1066.8"/>
<use href="#o" x="762.6" y="1066.7"/>
<use href="#o" x="777.1" y="1066.6"/>
<use href="#o" x="784.3" y="1067.6"/>
<use href="#o" x="786.2" y="1067.3"/>
<use href="#o" x="726.7" y="1069.6"/>
<use href="#o" x="745.1" y="1068.1"/>
<use href="#o" x="752.0" y="1068.8"/>
<use href="#o" x="756.8" y="1068.2"/>
<use href="#o" x="757.3" y="1068.4"/>
<use href="#o" x="769.7" y="1068.3"/>
<use href="#o" x="738.1" y="1070.7"/>
<use href="#o" x="763.1" y="1070.6"/>
<use href="#o" x="767.7" y="1070.7"/>
<use href="#o" x="771.2" y="1070.6"/>
<use href="#o" x="775.4" y="1071.2"/>
<use href="#o" x="776.6" y="1070.0"/>
<use href="#o" x="738.2" y="1073.4"/>
<use href="#o" x="753.5" y="1073.2"/>
<use href="#o" x="756.0" y="1073.0"/>
<use href="#o" x="779.2" y="1073.3"/>
<use href="#o" x="796.0" y="1073.1"/>
<use href="#o" x="725.1" y="1074.4"/>
<use href="#o" x="736.9" y="1075.8"/>
<use href="#o" x="746.1" y="1075.3"/>
<use href="#o" x="747.8" y="1074.9"/>
<use href="#o" x="751.1" y="1074.5"/>
<use href="#o" x="751.7" y="1075.8"/>
<use href="#o" x="753.1" y="1075.6"/>
<use href="#o" x="759.3" y="1075.5"/>
<use href="#o" x="761.6" y="1075.2"/>
<use href="#o" x="792.9" y="1075.7"/>
<use href="#o" x="746.8" y="1076.3"/>
<use href="#o" x="750.3" y="1077.0"/>
<use href="#o" x="756.0" y="1076.1"/>
<use href="#o" x="756.4" y="1077.0"/>
<use href="#o" x="766.6" y="1077.8"/>
<use href="#o" x="766.1" y="1077.5"/>
<use href="#o" x="766.6" y="1078.0"/>
<use href="#o" x="770.3" y="1076.0"/>
<use href="#o" x="772.4" y="1076.9"/>
<use href="#o" x="775.1" y="1076.3"/>
<use href="#o" x="738.0" y="1078.0"/>
<use href="#o" x="740.7" y="1078.5"/>
<use href="#o" x="743.3" y="1078.7"/>
<use href="#o" x="759.6" y="1079.4"/>
<use href="#o" x="768.0" y="1079.1"/>
<use href="#o" x="768.1" y="1078.0"/>
<use href="#o" x="769.4" y="1078.2"/>
<use href="#o" x="773.2" y="1079.4"/>
<use href="#o" x="739.8" y="1081.7"/>
<use href="#o" x="745.7" y="1080.5"/>
<use href="#o" x="752.6" y="1081.7"/>
<use href="#o" x="751.1" y="1081.0"/>
<use href="#o" x="753.8" y="1081.3"/>
<use href="#o" x="753.7" y="1081.1"/>
<use href="#o" x="766.9" y="1081.3"/>
<use href="#o" x="768.8" y="1080.1"/>
<use href="#o" x="779.5" y="1081.0"/>
<use href="#o" x="783.6" y="1081.3"/>
<use href="#o" x="789.5" y="1080.9"/>
<use href="#o" x="765.1" y="1083.0"/>
<use href="#o" x="769.5" y="1082.3"/>
<use href="#o" x="772.1" y="1082.8"/>
<use href="#o" x="782.3" y="1082.7"/>
<use href="#o" x="738.8" y="1085.6"/>
<use href="#o" x="740.8" y="1084.9"/>
<use href="#o" x="757.0" y="1084.9"/>
<use href="#o" x="771.7" y="1085.7"/>
<use href="#o" x="772.9" y="1085.8"/>
<use href="#o" x="783.1" y="1086.0"/>
<use href="#o" x="799.1" y="1084.2"/>
<use href="#o" x="727.9" y="1087.2"/>
<use href="#o" x="730.1" y="1087.6"/>
<use href="#o" x="736.0" y="1086.2"/>
<use href="#o" x="738.6" y="1088.0"/>
<use href="#o" x="739.3" y="1086.6"/>
<use href="#o" x="755.1" y="1086.8"/>
<use href="#o" x="758.4" y="1086.0"/>
<use href="#o" x="762.3" y="1086.4"/>
<use href="#o" x="773.8" y="1086.2"/>
<use href="#o" x="740.9" y="1088.9"/>
<use href="#o" x="748.8" y="1089.6"/>
<use href="#o" x="747.6" y="1089.2"/>
<use href="#o" x="750.9" y="1088.5"/>
<use href="#o" x="760.6" y="1088.5"/>
<use href="#o" x="768.1" y="1088.2"/>
<use href="#o" x="779.5" y="1088.4"/>
<use href="#o" x="735.9" y="1091.0"/>
<use href="#o" x="746.7" y="1090.5"/>
<use href="#o" x="753.0" y="1091.1"/>
<use href="#o" x="757.3" y="1091.1"/>
<use href="#o" x="767.3" y="1090.2"/>
<use href="#o" x="791.8" y="1091.7"/>
<use href="#o" x="739.4" y="1092.1"/>
<use href="#o" x="759.4" y="1092.5"/>
<use href="#o" x="768.6" y="1092.1"/>
<use href="#o" x="770.1" y="1092.5"/>
<use href="#o" x="775.8" y="1093.5"/>
<use href="#o" x="784.2" y="1093.9"/>
<use href="#o" x="789.5" y="1093.7"/>
<use href="#o" x="736.1" y="1094.5"/>
<use href="#o" x="761.6" y="1095.8"/>
<use href="#o" x="770.5" y="1094.3"/>
<use href="#o" x="779.6" y="1094.7"/>
<use href="#o" x="723.2" y="1097.4"/>
<use href="#o" x="725.2" y="1097.0"/>
<use href="#o" x="736.3" y="1097.9"/>
<use href="#o" x="749.4" y="1097.3"/>
<use href="#o" x="752.6" y="1097.7"/>
<use href="#o" x="752.5" y="1096.7"/>
<use href="#o" x="755.7" y="1097.1"/>
<use href="#o" x="759.1" y="1097.1"/>
<use href="#o" x="764.8" y="1097.9"/>
<use href="#o" x="783.1" y="1096.9"/>
<use href="#o" x="792.6" y="1096.9"/>
<use href="#o" x="747.9" y="1099.9"/>
<use href="#o" x="747.2" y="1099.6"/>
<use href="#o" x="759.3" y="1098.6"/>
<use href="#o" x="762.4" y="1099.4"/>
<use href="#o" x="786.2" y="1099.7"/>
<use href="#o" x="744.2" y="1101.7"/>
<use href="#o" x="751.5" y="1100.3"/>
<use href="#o" x="752.5" y="1100.7"/>
<use href="#o" x="767.7" y="1101.1"/>
<use href="#o" x="769.5" y="1100.7"/>
<use href="#o" x="769.5" y="1101.4"/>
<use href="#o" x="770.7" y="1101.5"/>
<use href="#o" x="772.1" y="1101.2"/>
<use href="#o" x="779.9" y="1101.4"/>
<use href="#o" x="786.2" y="1100.0"/>
<use href="#o" x="729.7" y="1102.3"/>
<use href="#o" x="741.8" y="1103.0"/>
<use href="#o" x="746.7" y="1103.2"/>
<use href="#o" x="753.1" y="1102.3"/>
<use href="#o" x="775.3" y="1103.3"/>
<use href="#o" x="790.1" y="1103.5"/>
<use href="#o" x="790.7" y="1103.5"/>
<use href="#o" x="803.6" y="1103.5"/>
<use href="#o" x="740.7" y="1104.5"/>
<use href="#o" x="750.9" y="1105.1"/>
<use href="#o" x="763.9" y="1104.7"/>
<use href="#o" x="764.2" y="1104.4"/>
<use href="#o" x="769.5" y="1104.9"/>
<use href="#o" x="771.0" y="1105.8"/>
<use href="#o" x="792.4" y="1105.5"/>
<use href="#o" x="794.2" y="1105.6"/>
<use href="#o" x="796.3" y="1104.4"/>
<use href="#o" x="761.0" y="1106.1"/>
<use href="#o" x="763.2" y="1106.3"/>
<use href="#o" x="768.6" y="1106.8"/>
<use href="#o" x="795.6" y="1107.0"/>
<use href="#o" x="797.0" y="1107.0"/>
<use href="#o" x="806.5" y="1106.2"/>
<use href="#o" x="738.3" y="1108.4"/>
<use href="#o" x="742.1" y="1109.6"/>
<use href="#o" x="747.3" y="1108.7"/>
<use href="#o" x="748.6" y="1109.8"/>
<use href="#o" x="761.1" y="1108.8"/>
<use href="#o" x="762.4" y="1108.5"/>
<use href="#o" x="762.5" y="1108.9"/>
<use href="#o" x="768.6" y="1110.0"/>
<use href="#o" x="777.5" y="1109.6"/>
<use href="#o" x="776.6" y="1108.7"/>
<use href="#o" x="781.4" y="1109.2"/>
<use href="#o" x="787.8" y="1108.7"/>
<use href="#o" x="788.4" y="1109.7"/>
<use href="#o" x="790.0" y="1108.2"/>
<use href="#o" x="793.8" y="1108.3"/>
<use href="#o" x="731.5" y="1111.6"/>
<use href="#o" x="748.8" y="1110.2"/>
<use href="#o" x="761.2" y="1110.7"/>
<use href="#o" x="765.4" y="1111.9"/>
<use href="#o" x="767.5" y="1110.4"/>
<use href="#o" x="795.8" y="1110.6"/>
<use href="#o" x="795.8" y="1111.9"/>
<use href="#o" x="806.2" y="1111.9"/>
<use href="#o" x="743.4" y="1112.6"/>
<use href="#o" x="751.5" y="1113.7"/>
<use href="#o" x="757.3" y="1113.5"/>
<use href="#o" x="783.4" y="1113.0"/>
<use href="#o" x="791.0" y="1113.1"/>
<use href="#o" x="792.3" y="1113.6"/>
<use href="#o" x="800.1" y="1112.8"/>
<use href="#o" x="745.9" y="1115.0"/>
<use href="#o" x="747.3" y="1115.4"/>
<use href="#o" x="771.6" y="1114.5"/>
<use href="#o" x="774.3" y="1115.7"/>
<use href="#o" x="779.7" y="1114.1"/>
<use href="#o" x="793.8" y="1115.2"/>
<use href="#o" x="796.9" y="1115.4"/>
<use href="#o" x="744.9" y="1117.8"/>
<use href="#o" x="753.5" y="1116.8"/>
<use href="#o" x="760.2" y="1116.4"/>
<use href="#o" x="764.2" y="1117.5"/>
<use href="#o" x="772.1" y="1117.4"/>
<use href="#o" x="778.7" y="1117.0"/>
<use href="#o" x="778.0" y="1118.0"/>
<use href="#o" x="778.5" y="1116.5"/>
<use href="#o" x="785.0" y="1116.8"/>
<use href="#o" x="791.7" y="1116.5"/>
<use href="#o" x="752.4" y="1119.6"/>
<use href="#o" x="758.8" y="1118.1"/>
<use href="#o" x="766.2" y="1118.4"/>
<use href="#o" x="768.6" y="1119.0"/>
<use href="#o" x="778.8" y="1118.4"/>
<use href="#o" x="784.3" y="1118.5"/>
<use href="#o" x="784.8" y="1119.4"/>
<use href="#o" x="793.5" y="1119.2"/>
<use href="#o" x="802.7" y="1118.3"/>
<use href="#o" x="805.1" y="1118.8"/>
<use href="#o" x="747.8" y="1122.0"/>
<use href="#o" x="748.6" y="1120.7"/>
<use href="#o" x="755.0" y="1121.7"/>
<use href="#o" x="767.8" y="1120.1"/>
<use href="#o" x="767.2" y="1121.9"/>
<use href="#o" x="770.1" y="1120.7"/>
<use href="#o" x="777.6" y="1120.6"/>
<use href="#o" x="786.9" y="1120.1"/>
<use href="#o" x="809.7" y="1121.7"/>
<use href="#o" x="768.8" y="1122.0"/>
<use href="#o" x="770.6" y="1123.1"/>
<use href="#o" x="772.5" y="1122.3"/>
<use href="#o" x="784.2" y="1122.5"/>
<use href="#o" x="787.1" y="1122.5"/>
<use href="#o" x="792.2" y="1123.4"/>
<use href="#o" x="794.6" y="1122.9"/>
<use href="#o" x="796.9" y="1122.8"/>
<use href="#o" x="741.0" y="1125.0"/>
<use href="#o" x="741.6" y="1125.8"/>
<use href="#o" x="750.2" y="1125.4"/>
<use href="#o" x="757.5" y="1124.3"/>
<use href="#o" x="759.5" y="1125.7"/>
<use href="#o" x="759.6" y="1125.2"/>
<use href="#o" x="763.7" y="1124.6"/>
<use href="#o" x="765.9" y="1124.2"/>
<use href="#o" x="767.7" y="1124.5"/>
<use href="#o" x="766.4" y="1124.9"/>
<use href="#o" x="773.4" y="1124.8"/>
<use href="#o" x="775.4" y="1125.9"/>
<use href="#o" x="776.2" y="1125.3"/>
<use href="#o" x="779.2" y="1125.7"/>
<use href="#o" x="781.0" y="1124.0"/>
<use href="#o" x="785.2" y="1124.9"/>
<use href="#o" x="792.6" y="1124.2"/>
<use href="#o" x="745.8" y="1126.8"/>
<use href="#o" x="750.0" y="1126.4"/>
<use href="#o" x="751.1" y="1126.0"/>
<use href="#o" x="755.6" y="1126.5"/>
<use href="#o" x="762.8" y="1127.9"/>
<use href="#o" x="764.2" y="1127.2"/>
<use href="#o" x="769.3" y="1127.3"/>
<use href="#o" x="775.0" y="1126.7"/>
<use href="#o" x="777.7" y="1127.4"/>
<use href="#o" x="783.5" y="1127.5"/>
<use href="#o" x="791.2" y="1127.2"/>
<use href="#o" x="790.1" y="1126.8"/>
<use href="#o" x="792.6" y="1127.5"/>
<use href="#o" x="801.6" y="1127.4"/>
<use href="#o" x="805.4" y="1126.6"/>
<use href="#o" x="759.6" y="1129.9"/>
<use href="#o" x="759.4" y="1128.6"/>
<use href="#o" x="771.4" y="1129.8"/>
<use href="#o" x="776.6" y="1128.6"/>
<use href="#o" x="780.1" y="1129.3"/>
<use href="#o" x="781.7" y="1129.8"/>
<use href="#o" x="792.7" y="1129.1"/>
<use href="#o" x="795.5" y="1128.1"/>
<use href="#o" x="814.4" y="1129.5"/>
<use href="#o" x="755.0" y="1131.3"/>
<use href="#o" x="756.7" y="1130.1"/>
<use href="#o" x="763.2" y="1130.8"/>
<use href="#o" x="769.7" y="1130.3"/>
<use href="#o" x="771.0" y="1131.8"/>
<use href="#o" x="773.3" y="1131.8"/>
<use href="#o" x="772.3" y="1131.4"/>
<use href="#o" x="774.6" y="1130.1"/>
<use href="#o" x="778.4" y="1130.4"/>
<use href="#o" x="783.6" y="1130.7"/>
<use href="#o" x="785.7" y="1130.7"/>
<use href="#o" x="801.7" y="1130.2"/>
<use href="#o" x="763.8" y="1133.0"/>
<use href="#o" x="769.7" y="1134.0"/>
<use href="#o" x="769.1" y="1133.0"/>
<use href="#o" x="769.3" y="1132.9"/>
<use href="#o" x="771.9" y="1132.7"/>
<use href="#o" x="781.9" y="1132.4"/>
<use href="#o" x="783.5" y="1133.1"/>
<use href="#o" x="786.9" y="1133.8"/>
<use href="#o" x="786.4" y="1133.4"/>
<use href="#o" x="794.3" y="1132.5"/>
<use href="#o" x="801.1" y="1132.4"/>
<use href="#o" x="805.9" y="1132.2"/>
<use href="#o" x="816.6" y="1133.0"/>
<use href="#o" x="759.9" y="1136.0"/>
<use href="#o" x="763.6" y="1135.7"/>
<use href="#o" x="776.9" y="1134.1"/>
<use href="#o" x="778.1" y="1134.6"/>
<use href="#o" x="783.3" y="1134.4"/>
<use href="#o" x="786.2" y="1135.2"/>
<use href="#o" x="751.1" y="1136.5"/>
<use href="#o" x="753.8" y="1137.6"/>
<use href="#o" x="756.5" y="1136.1"/>
<use href="#o" x="759.1" y="1136.5"/>
<use href="#o" x="760.9" y="1136.4"/>
<use href="#o" x="764.8" y="1136.5"/>
<use href="#o" x="770.9" y="1137.4"/>
<use href="#o" x="774.0" y="1136.2"/>
<use href="#o" x="775.0" y="1137.7"/>
<use href="#o" x="776.1" y="1137.6"/>
<use href="#o" x="783.1" y="1137.1"/>
<use href="#o" x="792.7" y="1137.6"/>
<use href="#o" x="805.7" y="1136.2"/>
<use href="#o" x="809.2" y="1136.7"/>
<use href="#o" x="744.0" y="1138.1"/>
<use href="#o" x="763.6" y="1139.8"/>
<use href="#o" x="764.1" y="1139.4"/>
<use href="#o" x="767.8" y="1138.4"/>
<use href="#o" x="769.4" y="1138.5"/>
<use href="#o" x="781.9" y="1139.5"/>
<use href="#o" x="782.5" y="1138.5"/>
<use href="#o" x="782.8" y="1138.0"/>
<use href="#o" x="787.5" y="1139.5"/>
<use href="#o" x="787.8" y="1139.6"/>
<use href="#o" x="793.3" y="1138.7"/>
<use href="#o" x="797.1" y="1139.3"/>
<use href="#o" x="801.8" y="1139.4"/>
<use href="#o" x="802.4" y="1138.6"/>
<use href="#o" x="804.5" y="1139.4"/>
<use href="#o" x="806.9" y="1139.4"/>
<use href="#o" x="753.2" y="1141.3"/>
<use href="#o" x="775.5" y="1140.4"/>
<use href="#o" x="774.2" y="1140.6"/>
<use href="#o" x="779.5" y="1140.2"/>
<use href="#o" x="781.7" y="1140.1"/>
<use href="#o" x="783.7" y="1141.6"/>
<use href="#o" x="784.0" y="1140.4"/>
<use href="#o" x="787.3" y="1141.2"/>
<use href="#o" x="788.3" y="1140.2"/>
<use href="#o" x="791.3" y="1141.1"/>
<use href="#o" x="799.9" y="1140.7"/>
<use href="#o" x="801.6" y="1140.5"/>
<use href="#o" x="760.3" y="1143.7"/>
<use href="#o" x="771.2" y="1143.0"/>
<use href="#o" x="787.1" y="1142.4"/>
<use href="#o" x="790.7" y="1143.9"/>
<use href="#o" x="792.9" y="1143.0"/>
<use href="#o" x="797.2" y="1142.5"/>
<use href="#o" x="800.5" y="1142.1"/>
<use href="#o" x="813.4" y="1142.0"/>
<use href="#o" x="765.7" y="1144.7"/>
<use href="#o" x="765.8" y="1144.4"/>
<use href="#o" x="770.4" y="1144.1"/>
<use href="#o" x="779.9" y="1144.8"/>
<use href="#o" x="781.9" y="1144.5"/>
<use href="#o" x="788.0" y="1145.2"/>
<use href="#o" x="792.0" y="1144.9"/>
<use href="#o" x="794.8" y="1144.7"/>
<use href="#o" x="805.2" y="1144.5"/>
<use href="#o" x="818.3" y="1145.0"/>
<use href="#o" x="767.7" y="1147.9"/>
<use href="#o" x="770.1" y="1147.8"/>
<use href="#o" x="781.1" y="1147.7"/>
<use href="#o" x="781.6" y="1147.3"/>
<use href="#o" x="789.6" y="1147.8"/>
<use href="#o" x="790.2" y="1147.8"/>
<use href="#o" x="796.5" y="1146.7"/>
<use href="#o" x="804.9" y="1147.3"/>
<use href="#o" x="807.0" y="1147.4"/>
<use href="#o" x="814.5" y="1146.9"/>
<use href="#o" x="816.8" y="1147.9"/>
<use href="#o" x="779.7" y="1149.4"/>
<use href="#o" x="789.7" y="1149.9"/>
<use href="#o" x="792.3" y="1149.4"/>
<use href="#o" x="792.9" y="1148.4"/>
<use href="#o" x="793.5" y="1149.6"/>
<use href="#o" x="797.4" y="1148.0"/>
<use href="#o" x="798.1" y="1149.5"/>
<use href="#o" x="817.2" y="1149.9"/>
<use href="#o" x="819.7" y="1149.0"/>
<use href="#o" x="771.6" y="1151.5"/>
<use href="#o" x="778.1" y="1150.3"/>
<use href="#o" x="781.4" y="1150.5"/>
<use href="#o" x="783.2" y="1150.4"/>
<use href="#o" x="783.4" y="1151.6"/>
<use href="#o" x="784.2" y="1151.3"/>
<use href="#o" x="769.4" y="1153.9"/>
<use href="#o" x="770.6" y="1153.4"/>
<use href="#o" x="784.4" y="1152.2"/>
<use href="#o" x="785.0" y="1153.0"/>
<use href="#o" x="789.6" y="1152.2"/>
<use href="#o" x="798.6" y="1153.0"/>
<use href="#o" x="800.7" y="1152.9"/>
<use href="#o" x="802.2" y="1152.9"/>
<use href="#o" x="803.3" y="1152.6"/>
<use href="#o" x="806.9" y="1153.2"/>
<use href="#o" x="806.6" y="1152.1"/>
<use href="#o" x="808.9" y="1152.2"/>
<use href="#o" x="814.6" y="1153.5"/>
<use href="#o" x="765.7" y="1154.2"/>
<use href="#o" x="769.5" y="1155.5"/>
<use href="#o" x="772.9" y="1155.2"/>
<use href="#o" x="771.6" y="1154.9"/>
<use href="#o" x="773.3" y="1154.4"/>
<use href="#o" x="776.6" y="1154.7"/>
<use href="#o" x="784.7" y="1154.6"/>
<use href="#o" x="787.4" y="1154.8"/>
<use href="#o" x="789.0" y="1155.5"/>
<use href="#o" x="790.2" y="1155.8"/>
<use href="#o" x="792.7" y="1155.6"/>
<use href="#o" x="808.3" y="1155.8"/>
<use href="#o" x="810.8" y="1155.6"/>
<use href="#o" x="812.5" y="1155.6"/>
<use href="#o" x="765.8" y="1156.3"/>
<use href="#o" x="767.4" y="1157.3"/>
<use href="#o" x="770.9" y="1156.7"/>
<use href="#o" x="773.7" y="1156.4"/>
<use href="#o" x="784.1" y="1156.1"/>
<use href="#o" x="786.9" y="1156.8"/>
<use href="#o" x="789.3" y="1157.8"/>
<use href="#o" x="788.9" y="1157.8"/>
<use href="#o" x="791.7" y="1157.1"/>
<use href="#o" x="797.0" y="1156.8"/>
<use href="#o" x="798.4" y="1156.7"/>
<use href="#o" x="803.8" y="1156.1"/>
<use href="#o" x="803.2" y="1156.9"/>
<use href="#o" x="804.2" y="1157.0"/>
<use href="#o" x="806.7" y="1156.4"/>
<use href="#o" x="808.4" y="1157.8"/>
<use href="#o" x="810.8" y="1157.4"/>
<use href="#o" x="812.6" y="1156.7"/>
<use href="#o" x="761.6" y="1158.4"/>
<use href="#o" x="761.8" y="1159.1"/>
<use href="#o" x="765.8" y="1158.4"/>
<use href="#o" x="771.9" y="1159.1"/>
<use href="#o" x="770.3" y="1159.3"/>
<use href="#o" x="771.6" y="1158.8"/>
<use href="#o" x="790.5" y="1158.5"/>
<use href="#o" x="799.2" y="1159.4"/>
<use href="#o" x="801.4" y="1158.5"/>
<use href="#o" x="803.9" y="1158.9"/>
<use href="#o" x="802.2" y="1158.1"/>
<use href="#o" x="804.3" y="1158.9"/>
<use href="#o" x="809.5" y="1158.5"/>
<use href="#o" x="774.9" y="1160.9"/>
<use href="#o" x="785.7" y="1160.9"/>
<use href="#o" x="785.7" y="1161.4"/>
<use href="#o" x="791.0" y="1161.7"/>
<use href="#o" x="794.3" y="1161.8"/>
<use href="#o" x="804.9" y="1160.3"/>
<use href="#o" x="808.2" y="1161.4"/>
<use href="#o" x="811.8" y="1160.4"/>
<use href="#o" x="815.1" y="1160.6"/>
<use href="#o" x="765.0" y="1162.7"/>
<use href="#o" x="770.7" y="1162.8"/>
<use href="#o" x="774.6" y="1162.7"/>
<use href="#o" x="777.4" y="1162.0"/>
<use href="#o" x="782.5" y="1162.1"/>
<use href="#o" x="787.8" y="1163.9"/>
<use href="#o" x="791.9" y="1162.9"/>
<use href="#o" x="794.2" y="1163.7"/>
<use href="#o" x="795.5" y="1163.2"/>
<use href="#o" x="796.1" y="1162.2"/>
<use href="#o" x="800.2" y="1162.3"/>
<use href="#o" x="806.7" y="1164.0"/>
<use href="#o" x="816.4" y="1162.4"/>
<use href="#o" x="816.3" y="1162.7"/>
<use href="#o" x="772.7" y="1164.8"/>
<use href="#o" x="774.3" y="1164.4"/>
<use href="#o" x="774.8" y="1165.4"/>
<use href="#o" x="774.0" y="1165.6"/>
<use href="#o" x="776.0" y="1165.6"/>
<use href="#o" x="781.5" y="1164.8"/>
<use href="#o" x="782.6" y="1164.8"/>
<use href="#o" x="782.5" y="1165.8"/>
<use href="#o" x="783.6" y="1165.6"/>
<use href="#o" x="784.6" y="1165.5"/>
<use href="#o" x="784.5" y="1165.2"/>
<use href="#o" x="788.6" y="1165.8"/>
<use href="#o" x="793.5" y="1165.1"/>
<use href="#o" x="793.8" y="1165.2"/>
<use href="#o" x="797.6" y="1164.2"/>
<use href="#o" x="803.5" y="1164.5"/>
<use href="#o" x="804.2" y="1165.0"/>
<use href="#o" x="807.3" y="1164.6"/>
<use href="#o" x="811.1" y="1165.6"/>
<use href="#o" x="811.5" y="1164.9"/>
<use href="#o" x="811.7" y="1164.8"/>
<use href="#o" x="812.2" y="1165.5"/>
<use href="#o" x="821.5" y="1164.3"/>
<use href="#o" x="773.9" y="1166.9"/>
<use href="#o" x="774.4" y="1167.5"/>
<use href="#o" x="777.3" y="1167.6"/>
<use href="#o" x="790.6" y="1166.5"/>
<use href="#o" x="792.8" y="1167.2"/>
<use href="#o" x="794.1" y="1167.7"/>
<use href="#o" x="793.9" y="1166.2"/>
<use href="#o" x="796.5" y="1166.5"/>
<use href="#o" x="795.9" y="1167.6"/>
<use href="#o" x="798.4" y="1167.1"/>
<use href="#o" x="797.8" y="1166.3"/>
<use href="#o" x="811.3" y="1167.8"/>
<use href="#o" x="816.2" y="1167.9"/>
<use href="#o" x="815.8" y="1167.1"/>
<use href="#o" x="768.7" y="1169.9"/>
<use href="#o" x="774.7" y="1169.2"/>
<use href="#o" x="779.9" y="1168.1"/>
<use href="#o" x="791.4" y="1169.9"/>
<use href="#o" x="792.0" y="1168.1"/>
<use href="#o" x="792.9" y="1169.9"/>
<use href="#o" x="803.6" y="1168.0"/>
<use href="#o" x="809.9" y="1168.5"/>
<use href="#o" x="810.6" y="1169.9"/>
<use href="#o" x="819.5" y="1168.5"/>
<use href="#o" x="818.3" y="1168.7"/>
<use href="#o" x="823.3" y="1168.3"/>
<use href="#o" x="823.5" y="1169.1"/>
<use href="#o" x="822.7" y="1169.8"/>
<use href="#o" x="775.0" y="1171.1"/>
<use href="#o" x="791.6" y="1170.5"/>
<use href="#o" x="801.3" y="1171.7"/>
<use href="#o" x="806.4" y="1170.1"/>
<use href="#o" x="822.3" y="1170.6"/>
<use href="#o" x="777.3" y="1173.3"/>
<use href="#o" x="788.0" y="1172.3"/>
<use href="#o" x="790.3" y="1172.2"/>
<use href="#o" x="791.4" y="1172.8"/>
<use href="#o" x="797.5" y="1173.3"/>
<use href="#o" x="797.4" y="1172.8"/>
<use href="#o" x="799.3" y="1172.1"/>
<use href="#o" x="804.0" y="1173.0"/>
<use href="#o" x="803.4" y="1173.3"/>
<use href="#o" x="808.9" y="1173.6"/>
<use href="#o" x="824.4" y="1173.6"/>
<use href="#o" x="785.0" y="1174.9"/>
<use href="#o" x="789.3" y="1175.7"/>
<use href="#o" x="790.4" y="1174.2"/>
<use href="#o" x="793.1" y="1174.7"/>
<use href="#o" x="796.8" y="1175.6"/>
<use href="#o" x="796.7" y="1175.2"/>
<use href="#o" x="797.4" y="1175.0"/>
<use href="#o" x="798.0" y="1174.7"/>
<use href="#o" x="797.7" y="1175.0"/>
<use href="#o" x="799.6" y="1175.0"/>
<use href="#o" x="806.1" y="1174.6"/>
<use href="#o" x="808.6" y="1175.0"/>
<use href="#o" x="811.8" y="1174.6"/>
<use href="#o" x="816.0" y="1175.5"/>
<use href="#o" x="779.4" y="1177.3"/>
<use href="#o" x="791.3" y="1177.9"/>
<use href="#o" x="792.7" y="1176.2"/>
<use href="#o" x="794.7" y="1176.5"/>
<use href="#o" x="795.0" y="1177.4"/>
<use href="#o" x="796.8" y="1176.6"/>
<use href="#o" x="797.9" y="1176.4"/>
<use href="#o" x="796.3" y="1176.6"/>
<use href="#o" x="799.7" y="1177.8"/>
<use href="#o" x="798.9" y="1176.4"/>
<use href="#o" x="800.2" y="1177.8"/>
<use href="#o" x="785.2" y="1179.1"/>
<use href="#o" x="784.6" y="1178.1"/>
<use href="#o" x="789.0" y="1178.2"/>
<use href="#o" x="800.0" y="1178.5"/>
<use href="#o" x="801.2" y="1178.8"/>
<use href="#o" x="805.6" y="1179.0"/>
<use href="#o" x="806.0" y="1178.1"/>
<use href="#o" x="811.7" y="1179.1"/>
<use href="#o" x="814.5" y="1179.5"/>
<use href="#o" x="818.9" y="1178.4"/>
<use href="#o" x="784.0" y="1181.0"/>
<use href="#o" x="788.8" y="1180.7"/>
<use href="#o" x="791.6" y="1180.2"/>
<use href="#o" x="793.2" y="1181.3"/>
<use href="#o" x="801.8" y="1181.9"/>
<use href="#o" x="809.9" y="1180.8"/>
<use href="#o" x="814.7" y="1180.7"/>
<use href="#o" x="815.4" y="1181.9"/>
<use href="#o" x="799.6" y="1183.4"/>
<use href="#o" x="804.1" y="1182.4"/>
<use href="#o" x="808.5" y="1182.7"/>
<use href="#o" x="811.2" y="1183.2"/>
<use href="#o" x="811.1" y="1183.9"/>
<use href="#o" x="814.7" y="1182.4"/>
<use href="#o" x="814.7" y="1183.0"/>
<use href="#o" x="818.7" y="1183.4"/>
<use href="#o" x="822.8" y="1182.7"/>
<use href="#o" x="789.6" y="1184.6"/>
<use href="#o" x="789.9" y="1185.6"/>
<use href="#o" x="789.5" y="1184.5"/>
<use href="#o" x="788.2" y="1185.9"/>
<use href="#o" x="792.3" y="1185.4"/>
<use href="#o" x="796.4" y="1185.9"/>
<use href="#o" x="801.4" y="1184.8"/>
<use href="#o" x="800.4" y="1184.4"/>
<use href="#o" x="803.0" y="1185.0"/>
<use href="#o" x="807.8" y="1184.7"/>
<use href="#o" x="812.8" y="1185.0"/>
<use href="#o" x="817.0" y="1185.6"/>
<use href="#o" x="821.6" y="1184.2"/>
<use href="#o" x="787.7" y="1187.1"/>
<use href="#o" x="795.7" y="1187.6"/>
<use href="#o" x="796.9" y="1187.3"/>
<use href="#o" x="798.2" y="1186.8"/>
<use href="#o" x="806.3" y="1186.4"/>
<use href="#o" x="809.0" y="1187.1"/>
<use href="#o" x="815.9" y="1186.4"/>
<use href="#o" x="819.1" y="1186.4"/>
<use href="#o" x="821.5" y="1186.5"/>
<use href="#o" x="790.7" y="1189.7"/>
<use href="#o" x="811.2" y="1188.4"/>
<use href="#o" x="821.0" y="1188.4"/>
<use href="#o" x="827.6" y="1188.1"/>
<use href="#o" x="788.0" y="1190.4"/>
<use href="#o" x="792.3" y="1191.1"/>
<use href="#o" x="801.7" y="1191.8"/>
<use href="#o" x="804.3" y="1191.3"/>
<use href="#o" x="805.3" y="1190.6"/>
<use href="#o" x="807.4" y="1191.3"/>
<use href="#o" x="809.0" y="1190.9"/>
<use href="#o" x="813.3" y="1191.3"/>
<use href="#o" x="818.1" y="1191.6"/>
<use href="#o" x="822.9" y="1190.1"/>
<use href="#o" x="792.9" y="1192.5"/>
<use href="#o" x="795.3" y="1193.7"/>
<use href="#o" x="798.2" y="1192.1"/>
<use href="#o" x="802.9" y="1193.5"/>
<use href="#o" x="813.1" y="1192.8"/>
<use href="#o" x="812.1" y="1192.9"/>
<use href="#o" x="815.2" y="1193.4"/>
<use href="#o" x="818.6" y="1193.4"/>
<use href="#o" x="796.5" y="1194.5"/>
<use href="#o" x="799.5" y="1194.2"/>
<use href="#o" x="801.2" y="1195.7"/>
<use href="#o" x="807.4" y="1194.6"/>
<use href="#o" x="826.5" y="1194.2"/>
<use href="#o" x="793.0" y="1197.8"/>
<use href="#o" x="794.6" y="1197.2"/>
<use href="#o" x="793.4" y="1198.0"/>
<use href="#o" x="796.1" y="1196.2"/>
<use href="#o" x="797.5" y="1197.2"/>
<use href="#o" x="804.3" y="1196.2"/>
<use href="#o" x="807.1" y="1196.4"/>
<use href="#o" x="809.8" y="1196.7"/>
<use href="#o" x="812.3" y="1196.8"/>
<use href="#o" x="813.4" y="1197.9"/>
<use href="#o" x="816.7" y="1196.5"/>
<use href="#o" x="816.5" y="1197.4"/>
<use href="#o" x="816.9" y="1197.7"/>
<use href="#o" x="818.6" y="1197.0"/>
<use href="#o" x="824.7" y="1197.3"/>
<use href="#o" x="794.7" y="1198.7"/>
<use href="#o" x="795.5" y="1198.8"/>
<use href="#o" x="805.0" y="1199.9"/>
<use href="#o" x="816.0" y="1198.5"/>
<use href="#o" x="821.0" y="1199.8"/>
<use href="#o" x="824.4" y="1199.6"/>
<use href="#o" x="797.6" y="1201.3"/>
<use href="#o" x="800.7" y="1201.9"/>
<use href="#o" x="800.7" y="1200.2"/>
<use href="#o" x="805.3" y="1201.9"/>
<use href="#o" x="805.6" y="1200.9"/>
<use href="#o" x="808.2" y="1201.2"/>
<use href="#o" x="811.4" y="1201.8"/>
<use href="#o" x="821.6" y="1201.3"/>
<use href="#o" x="820.3" y="1201.9"/>
<use href="#o" x="791.7" y="1203.6"/>
<use href="#o" x="802.6" y="1203.2"/>
<use href="#o" x="804.7" y="1202.0"/>
<use href="#o" x="813.2" y="1203.2"/>
<use href="#o" x="812.0" y="1202.8"/>
<use href="#o" x="812.5" y="1203.2"/>
<use href="#o" x="827.2" y="1202.2"/>
<use href="#o" x="830.1" y="1203.8"/>
<use href="#o" x="831.3" y="1202.6"/>
<use href="#o" x="794.2" y="1204.8"/>
<use href="#o" x="797.7" y="1205.1"/>
<use href="#o" x="800.8" y="1205.1"/>
<use href="#o" x="801.9" y="1205.1"/>
<use href="#o" x="804.0" y="1205.3"/>
<use href="#o" x="804.1" y="1205.4"/>
<use href="#o" x="805.6" y="1205.8"/>
<use href="#o" x="810.3" y="1205.6"/>
<use href="#o" x="818.2" y="1204.7"/>
<use href="#o" x="820.6" y="1205.9"/>
<use href="#o" x="830.1" y="1205.5"/>
<use href="#o" x="831.5" y="1205.0"/>
<use href="#o" x="796.1" y="1207.9"/>
<use href="#o" x="807.2" y="1207.6"/>
<use href="#o" x="814.9" y="1207.6"/>
<use href="#o" x="813.5" y="1206.0"/>
<use href="#o" x="816.5" y="1207.5"/>
<use href="#o" x="816.3" y="1207.7"/>
<use href="#o" x="818.7" y="1207.8"/>
<use href="#o" x="822.7" y="1207.1"/>
<use href="#o" x="831.5" y="1207.4"/>
<use href="#o" x="798.2" y="1208.6"/>
<use href="#o" x="801.6" y="1208.3"/>
<use href="#o" x="806.1" y="1209.5"/>
<use href="#o" x="810.5" y="1209.3"/>
<use href="#o" x="812.9" y="1208.1"/>
<use href="#o" x="819.1" y="1209.4"/>
<use href="#o" x="818.3" y="1208.8"/>
<use href="#o" x="824.7" y="1208.6"/>
<use href="#o" x="827.0" y="1208.8"/>
<use href="#o" x="829.1" y="1209.7"/>
<use href="#o" x="828.5" y="1208.5"/>
<use href="#o" x="800.8" y="1211.7"/>
<use href="#o" x="802.2" y="1211.3"/>
<use href="#o" x="804.6" y="1211.0"/>
<use href="#o" x="804.6" y="1210.9"/>
<use href="#o" x="809.9" y="1210.3"/>
<use href="#o" x="809.8" y="1211.3"/>
<use href="#o" x="809.7" y="1210.8"/>
<use href="#o" x="811.7" y="1211.6"/>
<use href="#o" x="815.5" y="1210.9"/>
<use href="#o" x="822.0" y="1210.4"/>
<use href="#o" x="820.8" y="1210.8"/>
<use href="#o" x="823.9" y="1211.3"/>
<use href="#o" x="798.7" y="1212.8"/>
<use href="#o" x="803.1" y="1212.9"/>
<use href="#o" x="812.1" y="1212.3"/>
<use href="#o" x="812.7" y="1213.6"/>
<use href="#o" x="815.6" y="1212.9"/>
<use href="#o" x="816.1" y="1212.1"/>
<use href="#o" x="818.8" y="1213.8"/>
<use href="#o" x="820.1" y="1213.1"/>
<use href="#o" x="822.1" y="1213.0"/>
<use href="#o" x="826.6" y="1212.9"/>
<use href="#o" x="809.3" y="1214.8"/>
<use href="#o" x="815.3" y="1214.2"/>
<use href="#o" x="814.7" y="1214.5"/>
<use href="#o" x="816.9" y="1215.7"/>
<use href="#o" x="818.5" y="1215.4"/>
<use href="#o" x="818.6" y="1215.4"/>
<use href="#o" x="823.6" y="1216.0"/>
<use href="#o" x="827.8" y="1214.1"/>
<use href="#o" x="808.5" y="1217.0"/>
<use href="#o" x="811.9" y="1216.0"/>
<use href="#o" x="816.3" y="1216.9"/>
<use href="#o" x="817.4" y="1217.1"/>
<use href="#o" x="819.4" y="1216.6"/>
<use href="#o" x="827.3" y="1217.5"/>
<use href="#o" x="831.2" y="1216.5"/>
<use href="#o" x="809.6" y="1219.5"/>
<use href="#o" x="817.7" y="1218.6"/>
<use href="#o" x="817.4" y="1218.9"/>
<use href="#o" x="820.7" y="1218.6"/>
<use href="#o" x="823.4" y="1218.2"/>
<use href="#o" x="816.7" y="1221.8"/>
<use href="#o" x="819.0" y="1220.7"/>
<use href="#o" x="823.9" y="1221.8"/>
<use href="#o" x="822.1" y="1221.4"/>
<use href="#o" x="826.7" y="1221.0"/>
<use href="#o" x="829.3" y="1220.9"/>
<use href="#o" x="831.4" y="1220.1"/>
<use href="#o" x="899.9" y="1021.8"/>
<use href="#o" x="904.9" y="1022.2"/>
<use href="#o" x="873.4" y="1024.3"/>
<use href="#o" x="885.8" y="1024.1"/>
<use href="#o" x="888.9" y="1025.7"/>
<use href="#o" x="927.0" y="1024.7"/>
<use href="#o" x="909.4" y="1026.2"/>
<use href="#o" x="895.0" y="1029.4"/>
<use href="#o" x="911.9" y="1028.6"/>
<use href="#o" x="883.9" y="1030.3"/>
<use href="#o" x="899.2" y="1031.2"/>
<use href="#o" x="905.2" y="1030.5"/>
<use href="#o" x="883.4" y="1034.8"/>
<use href="#o" x="902.7" y="1036.1"/>
<use href="#o" x="905.7" y="1036.2"/>
<use href="#o" x="921.4" y="1036.6"/>
<use href="#o" x="927.2" y="1036.7"/>
<use href="#o" x="902.1" y="1039.7"/>
<use href="#o" x="899.8" y="1041.5"/>
<use href="#o" x="899.4" y="1042.8"/>
<use href="#o" x="921.6" y="1043.1"/>
<use href="#o" x="885.0" y="1044.5"/>
<use href="#o" x="899.8" y="1045.0"/>
<use href="#o" x="904.4" y="1044.6"/>
<use href="#o" x="887.1" y="1046.2"/>
<use href="#o" x="902.1" y="1046.9"/>
<use href="#o" x="910.7" y="1046.2"/>
<use href="#o" x="909.2" y="1046.7"/>
<use href="#o" x="916.9" y="1046.4"/>
<use href="#o" x="900.6" y="1049.0"/>
<use href="#o" x="907.0" y="1048.7"/>
<use href="#o" x="879.7" y="1052.0"/>
<use href="#o" x="880.1" y="1051.9"/>
<use href="#o" x="886.1" y="1050.7"/>
<use href="#o" x="889.5" y="1051.6"/>
<use href="#o" x="889.0" y="1050.8"/>
<use href="#o" x="891.7" y="1051.2"/>
<use href="#o" x="902.4" y="1050.7"/>
<use href="#o" x="907.9" y="1051.6"/>
<use href="#o" x="909.5" y="1051.0"/>
<use href="#o" x="911.0" y="1051.5"/>
<use href="#o" x="897.3" y="1052.0"/>
<use href="#o" x="913.2" y="1053.4"/>
<use href="#o" x="921.6" y="1053.0"/>
<use href="#o" x="882.5" y="1055.3"/>
<use href="#o" x="907.7" y="1054.4"/>
<use href="#o" x="908.3" y="1055.5"/>
<use href="#o" x="914.9" y="1054.9"/>
<use href="#o" x="923.6" y="1055.0"/>
<use href="#o" x="891.9" y="1056.7"/>
<use href="#o" x="906.1" y="1056.6"/>
<use href="#o" x="925.8" y="1057.5"/>
<use href="#o" x="882.0" y="1058.7"/>
<use href="#o" x="888.0" y="1058.8"/>
<use href="#o" x="888.2" y="1059.5"/>
<use href="#o" x="903.0" y="1058.5"/>
<use href="#o" x="904.6" y="1058.0"/>
<use href="#o" x="907.5" y="1059.6"/>
<use href="#o" x="911.9" y="1059.9"/>
<use href="#o" x="922.9" y="1058.3"/>
<use href="#o" x="925.4" y="1059.0"/>
<use href="#o" x="886.3" y="1063.2"/>
<use href="#o" x="893.3" y="1062.2"/>
<use href="#o" x="879.4" y="1065.6"/>
<use href="#o" x="882.0" y="1065.1"/>
<use href="#o" x="902.8" y="1064.2"/>
<use href="#o" x="920.1" y="1065.3"/>
<use href="#o" x="881.4" y="1067.1"/>
<use href="#o" x="893.2" y="1066.4"/>
<use href="#o" x="919.8" y="1067.1"/>
<use href="#o" x="924.1" y="1067.4"/>
<use href="#o" x="869.5" y="1068.4"/>
<use href="#o" x="890.5" y="1069.3"/>
<use href="#o" x="891.0" y="1069.9"/>
<use href="#o" x="868.7" y="1070.6"/>
<use href="#o" x="889.2" y="1071.9"/>
<use href="#o" x="894.1" y="1071.9"/>
<use href="#o" x="910.6" y="1071.8"/>
<use href="#o" x="918.4" y="1071.6"/>
<use href="#o" x="880.5" y="1072.3"/>
<use href="#o" x="889.7" y="1072.3"/>
<use href="#o" x="899.0" y="1073.2"/>
<use href="#o" x="900.1" y="1073.7"/>
<use href="#o" x="900.3" y="1072.5"/>
<use href="#o" x="867.8" y="1074.9"/>
<use href="#o" x="874.0" y="1075.9"/>
<use href="#o" x="875.2" y="1074.9"/>
<use href="#o" x="886.2" y="1074.2"/>
<use href="#o" x="892.8" y="1074.5"/>
<use href="#o" x="902.4" y="1074.1"/>
<use href="#o" x="869.2" y="1077.6"/>
<use href="#o" x="870.5" y="1076.9"/>
<use href="#o" x="871.2" y="1076.4"/>
<use href="#o" x="879.0" y="1077.9"/>
<use href="#o" x="886.6" y="1077.8"/>
<use href="#o" x="919.5" y="1077.1"/>
<use href="#o" x="869.4" y="1079.2"/>
<use href="#o" x="886.3" y="1078.6"/>
<use href="#o" x="904.9" y="1078.5"/>
<use href="#o" x="911.7" y="1078.9"/>
<use href="#o" x="879.8" y="1080.9"/>
<use href="#o" x="886.0" y="1080.7"/>
<use href="#o" x="896.2" y="1080.1"/>
<use href="#o" x="884.0" y="1082.1"/>
<use href="#o" x="889.8" y="1082.2"/>
<use href="#o" x="906.2" y="1083.7"/>
<use href="#o" x="910.2" y="1083.4"/>
<use href="#o" x="915.8" y="1083.0"/>
<use href="#o" x="883.5" y="1084.6"/>
<use href="#o" x="888.1" y="1085.4"/>
<use href="#o" x="907.0" y="1085.4"/>
<use href="#o" x="921.3" y="1084.3"/>
<use href="#o" x="878.5" y="1087.7"/>
<use href="#o" x="888.0" y="1087.1"/>
<use href="#o" x="889.7" y="1087.4"/>
<use href="#o" x="904.0" y="1086.2"/>
<use href="#o" x="903.7" y="1086.1"/>
<use href="#o" x="904.0" y="1087.9"/>
<use href="#o" x="912.7" y="1087.7"/>
<use href="#o" x="915.8" y="1086.9"/>
<use href="#o" x="879.9" y="1089.9"/>
<use href="#o" x="894.7" y="1089.6"/>
<use href="#o" x="896.1" y="1089.6"/>
<use href="#o" x="898.3" y="1088.4"/>
<use href="#o" x="903.6" y="1090.0"/>
<use href="#o" x="913.8" y="1089.7"/>
<use href="#o" x="884.8" y="1090.1"/>
<use href="#o" x="893.8" y="1090.8"/>
<use href="#o" x="899.3" y="1091.1"/>
<use href="#o" x="911.9" y="1090.6"/>
<use href="#o" x="890.5" y="1092.4"/>
<use href="#o" x="900.9" y="1093.2"/>
<use href="#o" x="911.3" y="1092.2"/>
<use href="#o" x="873.9" y="1095.7"/>
<use href="#o" x="872.0" y="1094.3"/>
<use href="#o" x="875.2" y="1094.9"/>
<use href="#o" x="874.8" y="1094.3"/>
<use href="#o" x="883.8" y="1094.6"/>
<use href="#o" x="889.3" y="1095.1"/>
<use href="#o" x="898.4" y="1094.6"/>
<use href="#o" x="901.3" y="1094.1"/>
<use href="#o" x="913.1" y="1094.8"/>
<use href="#o" x="868.8" y="1097.2"/>
<use href="#o" x="893.0" y="1096.0"/>
<use href="#o" x="895.7" y="1096.1"/>
<use href="#o" x="896.4" y="1096.8"/>
<use href="#o" x="915.4" y="1096.8"/>
<use href="#o" x="867.7" y="1099.6"/>
<use href="#o" x="868.4" y="1099.7"/>
<use href="#o" x="876.1" y="1099.7"/>
<use href="#o" x="886.8" y="1098.5"/>
<use href="#o" x="889.8" y="1099.2"/>
<use href="#o" x="894.1" y="1098.9"/>
<use href="#o" x="904.1" y="1098.7"/>
<use href="#o" x="911.4" y="1099.5"/>
<use href="#o" x="871.8" y="1100.4"/>
<use href="#o" x="886.1" y="1101.9"/>
<use href="#o" x="895.1" y="1100.5"/>
<use href="#o" x="903.5" y="1101.2"/>
<use href="#o" x="872.8" y="1102.6"/>
<use href="#o" x="877.5" y="1103.5"/>
<use href="#o" x="892.6" y="1103.7"/>
<use href="#o" x="895.9" y="1102.1"/>
<use href="#o" x="896.1" y="1103.5"/>
<use href="#o" x="865.1" y="1105.1"/>
<use href="#o" x="879.7" y="1104.2"/>
<use href="#o" x="881.3" y="1104.5"/>
<use href="#o" x="886.3" y="1104.6"/>
<use href="#o" x="889.3" y="1105.1"/>
<use href="#o" x="899.0" y="1104.5"/>
<use href="#o" x="909.8" y="1105.5"/>
<use href="#o" x="872.1" y="1107.6"/>
<use href="#o" x="875.4" y="1107.7"/>
<use href="#o" x="877.7" y="1106.5"/>
<use href="#o" x="878.9" y="1107.8"/>
<use href="#o" x="881.5" y="1107.3"/>
<use href="#o" x="880.8" y="1107.0"/>
<use href="#o" x="881.0" y="1106.4"/>
<use href="#o" x="885.4" y="1107.4"/>
<use href="#o" x="896.9" y="1106.2"/>
<use href="#o" x="901.6" y="1107.6"/>
<use href="#o" x="903.9" y="1106.7"/>
<use href="#o" x="907.4" y="1106.2"/>
<use href="#o" x="874.2" y="1109.4"/>
<use href="#o" x="881.3" y="1108.5"/>
<use href="#o" x="894.5" y="1109.6"/>
<use href="#o" x="899.8" y="1110.0"/>
<use href="#o" x="903.8" y="1108.6"/>
<use href="#o" x="907.4" y="1110.0"/>
<use href="#o" x="883.5" y="1110.4"/>
<use href="#o" x="887.7" y="1111.8"/>
<use href="#o" x="888.7" y="1112.0"/>
<use href="#o" x="889.1" y="1110.5"/>
<use href="#o" x="869.1" y="1113.9"/>
<use href="#o" x="873.1" y="1112.2"/>
<use href="#o" x="890.4" y="1113.2"/>
<use href="#o" x="894.0" y="1113.2"/>
<use href="#o" x="897.6" y="1113.0"/>
<use href="#o" x="905.4" y="1113.0"/>
<use href="#o" x="881.4" y="1115.8"/>
<use href="#o" x="880.3" y="1115.3"/>
<use href="#o" x="883.8" y="1115.6"/>
<use href="#o" x="888.7" y="1114.9"/>
<use href="#o" x="891.8" y="1115.5"/>
<use href="#o" x="866.5" y="1117.4"/>
<use href="#o" x="871.1" y="1116.1"/>
<use href="#o" x="877.2" y="1116.2"/>
<use href="#o" x="879.5" y="1116.4"/>
<use href="#o" x="878.5" y="1116.1"/>
<use href="#o" x="889.9" y="1116.3"/>
<use href="#o" x="888.3" y="1116.8"/>
<use href="#o" x="891.6" y="1117.1"/>
<use href="#o" x="892.1" y="1116.2"/>
<use href="#o" x="895.5" y="1116.4"/>
<use href="#o" x="900.3" y="1117.5"/>
<use href="#o" x="868.7" y="1119.0"/>
<use href="#o" x="873.0" y="1119.5"/>
<use href="#o" x="890.9" y="1119.7"/>
<use href="#o" x="896.8" y="1118.3"/>
<use href="#o" x="899.3" y="1118.7"/>
<use href="#o" x="907.5" y="1119.1"/>
<use href="#o" x="913.2" y="1118.4"/>
<use href="#o" x="870.8" y="1120.2"/>
<use href="#o" x="872.3" y="1121.1"/>
<use href="#o" x="880.0" y="1121.6"/>
<use href="#o" x="883.4" y="1120.3"/>
<use href="#o" x="883.4" y="1120.8"/>
<use href="#o" x="886.1" y="1121.9"/>
<use href="#o" x="899.6" y="1121.1"/>
<use href="#o" x="861.4" y="1122.1"/>
<use href="#o" x="865.2" y="1123.1"/>
<use href="#o" x="870.2" y="1122.5"/>
<use href="#o" x="884.0" y="1123.5"/>
<use href="#o" x="885.8" y="1123.4"/>
<use href="#o" x="904.9" y="1123.9"/>
<use href="#o" x="910.7" y="1122.1"/>
<use href="#o" x="876.6" y="1125.9"/>
<use href="#o" x="894.8" y="1125.1"/>
<use href="#o" x="895.9" y="1124.5"/>
<use href="#o" x="896.1" y="1124.6"/>
<use href="#o" x="898.3" y="1124.7"/>
<use href="#o" x="904.9" y="1125.9"/>
<use href="#o" x="904.1" y="1125.1"/>
<use href="#o" x="872.3" y="1126.9"/>
<use href="#o" x="885.4" y="1127.2"/>
<use href="#o" x="899.7" y="1127.6"/>
<use href="#o" x="901.0" y="1127.7"/>
<use href="#o" x="859.0" y="1128.2"/>
<use href="#o" x="866.4" y="1129.0"/>
<use href="#o" x="868.5" y="1129.6"/>
<use href="#o" x="872.5" y="1128.6"/>
<use href="#o" x="875.3" y="1129.8"/>
<use href="#o" x="877.0" y="1128.4"/>
<use href="#o" x="876.2" y="1128.5"/>
<use href="#o" x="878.3" y="1128.6"/>
<use href="#o" x="883.9" y="1130.0"/>
<use href="#o" x="882.4" y="1128.5"/>
<use href="#o" x="892.6" y="1129.3"/>
<use href="#o" x="895.0" y="1128.3"/>
<use href="#o" x="897.7" y="1129.3"/>
<use href="#o" x="899.2" y="1129.9"/>
<use href="#o" x="900.2" y="1129.8"/>
<use href="#o" x="905.9" y="1129.2"/>
<use href="#o" x="905.5" y="1129.2"/>
<use href="#o" x="869.5" y="1131.6"/>
<use href="#o" x="879.4" y="1130.4"/>
<use href="#o" x="878.0" y="1131.4"/>
<use href="#o" x="882.0" y="1131.4"/>
<use href="#o" x="884.3" y="1131.8"/>
<use href="#o" x="874.3" y="1133.0"/>
<use href="#o" x="874.1" y="1133.7"/>
<use href="#o" x="878.8" y="1132.2"/>
<use href="#o" x="880.8" y="1133.6"/>
<use href="#o" x="882.0" y="1133.6"/>
<use href="#o" x="881.1" y="1133.1"/>
<use href="#o" x="886.2" y="1133.5"/>
<use href="#o" x="889.7" y="1133.1"/>
<use href="#o" x="893.6" y="1132.8"/>
<use href="#o" x="900.5" y="1132.8"/>
<use href="#o" x="855.9" y="1134.1"/>
<use href="#o" x="875.2" y="1135.3"/>
<use href="#o" x="880.7" y="1134.5"/>
<use href="#o" x="880.3" y="1134.0"/>
<use href="#o" x="881.9" y="1135.0"/>
<use href="#o" x="887.1" y="1134.5"/>
<use href="#o" x="889.6" y="1135.2"/>
<use href="#o" x="893.4" y="1134.3"/>
<use href="#o" x="893.9" y="1134.6"/>
<use href="#o" x="897.1" y="1134.2"/>
<use href="#o" x="856.3" y="1136.3"/>
<use href="#o" x="856.2" y="1137.8"/>
<use href="#o" x="864.5" y="1136.1"/>
<use href="#o" x="869.6" y="1136.0"/>
<use href="#o" x="871.7" y="1136.7"/>
<use href="#o" x="872.6" y="1137.9"/>
<use href="#o" x="877.9" y="1136.6"/>
<use href="#o" x="880.7" y="1136.8"/>
<use href="#o" x="879.8" y="1137.6"/>
<use href="#o" x="882.7" y="1137.8"/>
<use href="#o" x="882.9" y="1137.1"/>
<use href="#o" x="894.9" y="1136.0"/>
<use href="#o" x="898.3" y="1137.0"/>
<use href="#o" x="869.3" y="1138.8"/>
<use href="#o" x="870.8" y="1138.7"/>
<use href="#o" x="870.9" y="1139.2"/>
<use href="#o" x="877.8" y="1139.1"/>
<use href="#o" x="879.5" y="1138.8"/>
<use href="#o" x="878.2" y="1139.7"/>
<use href="#o" x="880.4" y="1139.0"/>
<use href="#o" x="892.0" y="1139.8"/>
<use href="#o" x="895.2" y="1139.1"/>
<use href="#o" x="856.0" y="1141.8"/>
<use href="#o" x="862.8" y="1142.0"/>
<use href="#o" x="866.7" y="1140.8"/>
<use href="#o" x="876.0" y="1141.6"/>
<use href="#o" x="879.5" y="1141.7"/>
<use href="#o" x="888.9" y="1141.3"/>
<use href="#o" x="867.2" y="1143.4"/>
<use href="#o" x="871.9" y="1143.2"/>
<use href="#o" x="874.0" y="1143.2"/>
<use href="#o" x="874.8" y="1143.1"/>
<use href="#o" x="877.7" y="1142.6"/>
<use href="#o" x="888.6" y="1142.7"/>
<use href="#o" x="859.3" y="1144.8"/>
<use href="#o" x="868.3" y="1145.2"/>
<use href="#o" x="868.0" y="1145.3"/>
<use href="#o" x="873.8" y="1145.4"/>
<use href="#o" x="875.9" y="1144.8"/>
<use href="#o" x="882.0" y="1144.6"/>
<use href="#o" x="886.0" y="1144.4"/>
<use href="#o" x="900.6" y="1144.8"/>
<use href="#o" x="855.8" y="1146.4"/>
<use href="#o" x="858.0" y="1146.1"/>
<use href="#o" x="864.5" y="1146.5"/>
<use href="#o" x="871.7" y="1146.2"/>
<use href="#o" x="872.1" y="1147.5"/>
<use href="#o" x="878.6" y="1146.8"/>
<use href="#o" x="880.1" y="1147.2"/>
<use href="#o" x="879.9" y="1147.6"/>
<use href="#o" x="881.5" y="1147.0"/>
<use href="#o" x="889.3" y="1147.7"/>
<use href="#o" x="894.2" y="1147.8"/>
<use href="#o" x="884.6" y="1148.1"/>
<use href="#o" x="887.3" y="1149.5"/>
<use href="#o" x="891.4" y="1149.8"/>
<use href="#o" x="893.0" y="1149.7"/>
<use href="#o" x="892.8" y="1148.5"/>
<use href="#o" x="900.7" y="1149.9"/>
<use href="#o" x="861.9" y="1150.5"/>
<use href="#o" x="865.6" y="1151.2"/>
<use href="#o" x="870.0" y="1151.1"/>
<use href="#o" x="871.4" y="1151.5"/>
<use href="#o" x="871.3" y="1150.0"/>
<use href="#o" x="872.4" y="1150.2"/>
<use href="#o" x="882.0" y="1151.5"/>
<use href="#o" x="890.0" y="1151.3"/>
<use href="#o" x="891.4" y="1151.3"/>
<use href="#o" x="893.3" y="1151.6"/>
<use href="#o" x="896.2" y="1150.3"/>
<use href="#o" x="859.8" y="1153.4"/>
<use href="#o" x="863.1" y="1152.1"/>
<use href="#o" x="862.4" y="1153.3"/>
<use href="#o" x="872.9" y="1153.1"/>
<use href="#o" x="874.0" y="1153.9"/>
<use href="#o" x="878.2" y="1153.3"/>
<use href="#o" x="882.3" y="1153.8"/>
<use href="#o" x="885.6" y="1152.9"/>
<use href="#o" x="885.6" y="1153.9"/>
<use href="#o" x="886.7" y="1153.4"/>
<use href="#o" x="854.3" y="1155.3"/>
<use href="#o" x="867.5" y="1154.7"/>
<use href="#o" x="870.0" y="1155.0"/>
<use href="#o" x="877.6" y="1154.9"/>
<use href="#o" x="883.4" y="1154.6"/>
<use href="#o" x="892.7" y="1156.0"/>
<use href="#o" x="858.1" y="1157.2"/>
<use href="#o" x="866.4" y="1156.4"/>
<use href="#o" x="869.7" y="1157.2"/>
<use href="#o" x="872.4" y="1156.9"/>
<use href="#o" x="876.2" y="1156.6"/>
<use href="#o" x="877.8" y="1156.3"/>
<use href="#o" x="880.1" y="1157.5"/>
<use href="#o" x="882.4" y="1157.6"/>
<use href="#o" x="886.9" y="1157.2"/>
<use href="#o" x="887.7" y="1156.9"/>
<use href="#o" x="888.2" y="1157.6"/>
<use href="#o" x="892.0" y="1156.3"/>
<use href="#o" x="870.2" y="1158.8"/>
<use href="#o" x="872.7" y="1159.9"/>
<use href="#o" x="875.0" y="1159.5"/>
<use href="#o" x="882.8" y="1159.3"/>
<use href="#o" x="853.6" y="1160.8"/>
<use href="#o" x="868.8" y="1160.8"/>
<use href="#o" x="869.4" y="1160.6"/>
<use href="#o" x="878.1" y="1160.7"/>
<use href="#o" x="893.8" y="1160.2"/>
<use href="#o" x="852.1" y="1162.4"/>
<use href="#o" x="855.5" y="1162.8"/>
<use href="#o" x="862.7" y="1163.4"/>
<use href="#o" x="865.6" y="1162.2"/>
<use href="#o" x="867.4" y="1162.6"/>
<use href="#o" x="873.8" y="1162.8"/>
<use href="#o" x="877.4" y="1163.0"/>
<use href="#o" x="885.8" y="1163.6"/>
<use href="#o" x="888.8" y="1163.1"/>
<use href="#o" x="893.2" y="1162.5"/>
<use href="#o" x="857.4" y="1164.6"/>
<use href="#o" x="864.1" y="1165.2"/>
<use href="#o" x="871.1" y="1164.7"/>
<use href="#o" x="872.6" y="1164.9"/>
<use href="#o" x="876.3" y="1165.4"/>
<use href="#o" x="882.1" y="1164.7"/>
<use href="#o" x="891.0" y="1164.7"/>
<use href="#o" x="858.9" y="1167.1"/>
<use href="#o" x="864.1" y="1167.2"/>
<use href="#o" x="863.3" y="1167.7"/>
<use href="#o" x="865.6" y="1167.5"/>
<use href="#o" x="872.7" y="1167.4"/>
<use href="#o" x="871.8" y="1167.9"/>
<use href="#o" x="874.0" y="1166.1"/>
<use href="#o" x="874.8" y="1167.7"/>
<use href="#o" x="876.6" y="1166.0"/>
<use href="#o" x="887.2" y="1166.0"/>
<use href="#o" x="889.9" y="1166.1"/>
<use href="#o" x="863.6" y="1168.2"/>
<use href="#o" x="872.5" y="1169.6"/>
<use href="#o" x="874.2" y="1169.7"/>
<use href="#o" x="875.9" y="1169.6"/>
<use href="#o" x="889.0" y="1168.8"/>
<use href="#o" x="865.9" y="1171.5"/>
<use href="#o" x="867.4" y="1170.8"/>
<use href="#o" x="868.8" y="1171.9"/>
<use href="#o" x="875.8" y="1170.7"/>
<use href="#o" x="876.2" y="1171.2"/>
<use href="#o" x="885.4" y="1170.3"/>
<use href="#o" x="849.3" y="1173.7"/>
<use href="#o" x="866.3" y="1173.9"/>
<use href="#o" x="868.3" y="1173.0"/>
<use href="#o" x="869.0" y="1172.8"/>
<use href="#o" x="869.6" y="1172.5"/>
<use href="#o" x="870.6" y="1173.7"/>
<use href="#o" x="874.8" y="1172.9"/>
<use href="#o" x="878.1" y="1172.9"/>
<use href="#o" x="879.5" y="1173.1"/>
<use href="#o" x="879.9" y="1174.0"/>
<use href="#o" x="880.8" y="1172.1"/>
<use href="#o" x="884.4" y="1173.1"/>
<use href="#o" x="886.2" y="1172.9"/>
<use href="#o" x="855.1" y="1175.3"/>
<use href="#o" x="863.5" y="1175.1"/>
<use href="#o" x="864.3" y="1174.7"/>
<use href="#o" x="871.0" y="1175.4"/>
<use href="#o" x="877.7" y="1175.0"/>
<use href="#o" x="878.7" y="1174.9"/>
<use href="#o" x="879.5" y="1174.9"/>
<use href="#o" x="881.0" y="1175.5"/>
<use href="#o" x="881.0" y="1175.2"/>
<use href="#o" x="885.1" y="1174.2"/>
<use href="#o" x="885.1" y="1175.9"/>
<use href="#o" x="855.5" y="1176.6"/>
<use href="#o" x="859.1" y="1176.5"/>
<use href="#o" x="862.5" y="1177.5"/>
<use href="#o" x="866.2" y="1177.3"/>
<use href="#o" x="870.9" y="1177.1"/>
<use href="#o" x="872.5" y="1177.2"/>
<use href="#o" x="871.8" y="1177.4"/>
<use href="#o" x="873.4" y="1177.9"/>
<use href="#o" x="876.9" y="1178.0"/>
<use href="#o" x="859.6" y="1179.9"/>
<use href="#o" x="869.5" y="1178.1"/>
<use href="#o" x="869.3" y="1179.3"/>
<use href="#o" x="870.1" y="1178.7"/>
<use href="#o" x="872.2" y="1178.8"/>
<use href="#o" x="876.6" y="1179.5"/>
<use href="#o" x="857.5" y="1180.3"/>
<use href="#o" x="862.8" y="1181.4"/>
<use href="#o" x="863.9" y="1180.2"/>
<use href="#o" x="868.8" y="1181.7"/>
<use href="#o" x="869.8" y="1181.7"/>
<use href="#o" x="856.5" y="1182.5"/>
<use href="#o" x="859.2" y="1182.4"/>
<use href="#o" x="858.9" y="1183.2"/>
<use href="#o" x="862.1" y="1182.2"/>
<use href="#o" x="871.8" y="1183.2"/>
<use href="#o" x="873.7" y="1183.9"/>
<use href="#o" x="875.1" y="1182.9"/>
<use href="#o" x="881.8" y="1183.0"/>
<use href="#o" x="882.0" y="1182.9"/>
<use href="#o" x="850.3" y="1185.0"/>
<use href="#o" x="853.9" y="1184.1"/>
<use href="#o" x="859.8" y="1184.4"/>
<use href="#o" x="871.4" y="1185.1"/>
<use href="#o" x="874.6" y="1184.4"/>
<use href="#o" x="876.7" y="1184.2"/>
<use href="#o" x="848.4" y="1186.9"/>
<use href="#o" x="851.9" y="1186.2"/>
<use href="#o" x="853.2" y="1187.9"/>
<use href="#o" x="854.7" y="1187.9"/>
<use href="#o" x="857.5" y="1187.8"/>
<use href="#o" x="863.8" y="1186.9"/>
<use href="#o" x="871.8" y="1187.6"/>
<use href="#o" x="881.9" y="1186.9"/>
<use href="#o" x="880.7" y="1187.8"/>
<use href="#o" x="881.6" y="1187.4"/>
<use href="#o" x="853.0" y="1188.0"/>
<use href="#o" x="865.4" y="1189.7"/>
<use href="#o" x="868.1" y="1188.8"/>
<use href="#o" x="868.6" y="1188.3"/>
<use href="#o" x="867.5" y="1188.9"/>
<use href="#o" x="868.1" y="1190.0"/>
<use href="#o" x="876.0" y="1189.2"/>
<use href="#o" x="878.2" y="1189.9"/>
<use href="#o" x="879.7" y="1189.3"/>
<use href="#o" x="866.1" y="1190.8"/>
<use href="#o" x="870.0" y="1190.7"/>
<use href="#o" x="853.2" y="1193.1"/>
<use href="#o" x="857.4" y="1192.1"/>
<use href="#o" x="859.5" y="1193.9"/>
<use href="#o" x="868.9" y="1192.6"/>
<use href="#o" x="879.5" y="1193.8"/>
<use href="#o" x="854.6" y="1194.8"/>
<use href="#o" x="857.4" y="1194.9"/>
<use href="#o" x="861.9" y="1195.1"/>
<use href="#o" x="863.0" y="1195.0"/>
<use href="#o" x="866.0" y="1194.6"/>
<use href="#o" x="868.6" y="1194.4"/>
<use href="#o" x="868.8" y="1194.9"/>
<use href="#o" x="856.1" y="1197.0"/>
<use href="#o" x="858.5" y="1196.3"/>
<use href="#o" x="859.3" y="1197.5"/>
<use href="#o" x="867.8" y="1196.8"/>
<use href="#o" x="866.0" y="1196.4"/>
<use href="#o" x="868.6" y="1196.8"/>
<use href="#o" x="869.0" y="1196.1"/>
<use href="#o" x="870.5" y="1196.1"/>
<use href="#o" x="875.7" y="1197.3"/>
<use href="#o" x="874.1" y="1196.6"/>
<use href="#o" x="853.3" y="1198.5"/>
<use href="#o" x="855.0" y="1198.6"/>
<use href="#o" x="854.7" y="1199.9"/>
<use href="#o" x="855.9" y="1200.0"/>
<use href="#o" x="857.3" y="1199.8"/>
<use href="#o" x="860.7" y="1199.4"/>
<use href="#o" x="860.3" y="1198.5"/>
<use href="#o" x="867.5" y="1199.4"/>
<use href="#o" x="866.9" y="1199.0"/>
<use href="#o" x="866.3" y="1198.5"/>
<use href="#o" x="872.5" y="1199.7"/>
<use href="#o" x="874.4" y="1199.0"/>
<use href="#o" x="875.7" y="1199.6"/>
<use href="#o" x="860.5" y="1201.7"/>
<use href="#o" x="860.4" y="1201.6"/>
<use href="#o" x="862.9" y="1200.9"/>
<use href="#o" x="864.2" y="1200.2"/>
<use href="#o" x="864.5" y="1200.7"/>
<use href="#o" x="869.6" y="1201.5"/>
<use href="#o" x="874.5" y="1201.2"/>
<use href="#o" x="875.9" y="1201.2"/>
<use href="#o" x="846.4" y="1203.0"/>
<use href="#o" x="850.9" y="1203.5"/>
<use href="#o" x="857.8" y="1202.1"/>
<use href="#o" x="862.5" y="1203.5"/>
<use href="#o" x="863.5" y="1203.3"/>
<use href="#o" x="865.7" y="1203.8"/>
<use href="#o" x="866.2" y="1202.7"/>
<use href="#o" x="867.4" y="1203.8"/>
<use href="#o" x="871.9" y="1202.5"/>
<use href="#o" x="873.8" y="1202.8"/>
<use href="#o" x="851.8" y="1205.9"/>
<use href="#o" x="853.8" y="1204.5"/>
<use href="#o" x="860.0" y="1204.3"/>
<use href="#o" x="862.3" y="1205.6"/>
<use href="#o" x="875.0" y="1205.8"/>
<use href="#o" x="865.0" y="1207.3"/>
<use href="#o" x="868.0" y="1207.1"/>
<use href="#o" x="870.8" y="1206.7"/>
<use href="#o" x="874.6" y="1207.1"/>
<use href="#o" x="846.2" y="1209.6"/>
<use href="#o" x="846.2" y="1209.4"/>
<use href="#o" x="846.4" y="1209.4"/>
<use href="#o" x="852.9" y="1209.9"/>
<use href="#o" x="855.4" y="1208.8"/>
<use href="#o" x="869.1" y="1209.6"/>
<use href="#o" x="871.9" y="1209.9"/>
<use href="#o" x="873.7" y="1209.3"/>
<use href="#o" x="848.0" y="1210.7"/>
<use href="#o" x="847.8" y="1210.0"/>
<use href="#o" x="849.0" y="1210.9"/>
<use href="#o" x="852.4" y="1210.5"/>
<use href="#o" x="854.0" y="1210.6"/>
<use href="#o" x="856.6" y="1210.9"/>
<use href="#o" x="859.3" y="1210.1"/>
<use href="#o" x="858.1" y="1210.7"/>
<use href="#o" x="860.1" y="1211.7"/>
<use href="#o" x="851.8" y="1212.4"/>
<use href="#o" x="852.9" y="1212.5"/>
<use href="#o" x="855.7" y="1213.9"/>
<use href="#o" x="858.6" y="1213.0"/>
<use href="#o" x="861.5" y="1212.6"/>
<use href="#o" x="863.4" y="1213.0"/>
<use href="#o" x="872.8" y="1213.3"/>
<use href="#o" x="843.9" y="1214.9"/>
<use href="#o" x="853.4" y="1214.3"/>
<use href="#o" x="852.8" y="1215.0"/>
<use href="#o" x="857.1" y="1214.5"/>
<use href="#o" x="861.2" y="1215.1"/>
<use href="#o" x="861.7" y="1214.1"/>
<use href="#o" x="870.5" y="1215.8"/>
<use href="#o" x="845.4" y="1216.5"/>
<use href="#o" x="847.8" y="1217.7"/>
<use href="#o" x="853.6" y="1217.2"/>
<use href="#o" x="852.5" y="1217.4"/>
<use href="#o" x="858.9" y="1217.4"/>
<use href="#o" x="858.7" y="1216.5"/>
<use href="#o" x="862.5" y="1217.0"/>
<use href="#o" x="865.3" y="1216.3"/>
<use href="#o" x="864.4" y="1216.3"/>
<use href="#o" x="869.8" y="1217.4"/>
<use href="#o" x="868.1" y="1217.8"/>
<use href="#o" x="845.0" y="1218.4"/>
<use href="#o" x="850.0" y="1219.1"/>
<use href="#o" x="851.5" y="1219.2"/>
<use href="#o" x="852.9" y="1219.6"/>
<use href="#o" x="858.0" y="1219.5"/>
<use href="#o" x="858.8" y="1218.5"/>
<use href="#o" x="865.9" y="1219.3"/>
<use href="#o" x="842.7" y="1220.3"/>
<use href="#o" x="849.7" y="1220.9"/>
<use href="#o" x="855.0" y="1220.2"/>
<use href="#o" x="864.3" y="1221.3"/>
<use href="#o" x="189.5" y="1221.5"/>
<use href="#o" x="429.7" y="1221.5"/>
<use href="#o" x="470.2" y="1221.5"/>
<use href="#o" x="503.2" y="1221.5"/>
<use href="#o" x="506.9" y="1221.5"/>
<use href="#o" x="510.7" y="1221.5"/>
<use href="#o" x="525.7" y="1221.5"/>
<use href="#o" x="548.3" y="1221.5"/>
<use href="#o" x="573.8" y="1221.5"/>
<use href="#o" x="591.8" y="1221.5"/>
<use href="#o" x="608.0" y="1221.5"/>
<use href="#o" x="611.4" y="1221.5"/>
<use href="#o" x="614.8" y="1221.5"/>
<use href="#o" x="618.2" y="1221.5"/>
<use href="#o" x="621.6" y="1221.5"/>
<use href="#o" x="625.0" y="1221.5"/>
<use href="#o" x="629.0" y="1221.5"/>
<use href="#o" x="634.0" y="1221.5"/>
<use href="#o" x="638.0" y="1221.5"/>
<use href="#o" x="641.8" y="1221.5"/>
<use href="#o" x="645.5" y="1221.5"/>
<use href="#o" x="649.2" y="1221.5"/>
<use href="#o" x="653.0" y="1221.5"/>
<use href="#o" x="668.0" y="1221.5"/>
<use href="#o" x="671.4" y="1221.5"/>
<use href="#o" x="674.8" y="1221.5"/>
<use href="#o" x="678.2" y="1221.5"/>
<use href="#o" x="681.6" y="1221.5"/>
<use href="#o" x="685.0" y="1221.5"/>
<use href="#o" x="693.0" y="1221.5"/>
<use href="#o" x="696.5" y="1221.5"/>
<use href="#o" x="700.0" y="1221.5"/>
<use href="#o" x="703.5" y="1221.5"/>
<use href="#o" x="707.0" y="1221.5"/>
<use href="#o" x="710.5" y="1221.5"/>
<use href="#o" x="714.0" y="1221.5"/>
<use href="#o" x="719.0" y="1221.5"/>
<use href="#o" x="722.2" y="1221.5"/>
<use href="#o" x="725.5" y="1221.5"/>
<use href="#o" x="728.8" y="1221.5"/>
<use href="#o" x="732.0" y="1221.5"/>
<use href="#o" x="735.0" y="1221.5"/>
<use href="#o" x="738.6" y="1221.5"/>
<use href="#o" x="742.1" y="1221.5"/>
<use href="#o" x="745.7" y="1221.5"/>
<use href="#o" x="749.3" y="1221.5"/>
<use href="#o" x="752.9" y="1221.5"/>
<use href="#o" x="756.4" y="1221.5"/>
<use href="#o" x="760.0" y="1221.5"/>
<use href="#o" x="764.0" y="1221.5"/>
<use href="#o" x="768.0" y="1221.5"/>
<use href="#o" x="772.0" y="1221.5"/>
<use href="#o" x="775.0" y="1221.5"/>
<use href="#o" x="778.2" y="1221.5"/>
<use href="#o" x="781.5" y="1221.5"/>
<use href="#o" x="784.8" y="1221.5"/>
<use href="#o" x="788.0" y="1221.5"/>
<use href="#o" x="791.2" y="1221.5"/>
<use href="#o" x="794.5" y="1221.5"/>
<use href="#o" x="797.8" y="1221.5"/>
<use href="#o" x="801.0" y="1221.5"/>
<use href="#o" x="804.2" y="1221.5"/>
<use href="#o" x="807.5" y="1221.5"/>
<use href="#o" x="810.8" y="1221.5"/>
<use href="#o" x="814.0" y="1221.5"/>
<use href="#o" x="817.2" y="1221.5"/>
<use href="#o" x="820.5" y="1221.5"/>
<use href="#o" x="823.8" y="1221.5"/>
<use href="#o" x="827.0" y="1221.5"/>
<use href="#o" x="830.2" y="1221.5"/>
<use href="#o" x="833.5" y="1221.5"/>
<use href="#o" x="836.8" y="1221.5"/>
<use href="#o" x="840.0" y="1221.5"/>
<use href="#o" x="843.2" y="1221.5"/>
<use href="#o" x="846.5" y="1221.5"/>
<use href="#o" x="849.8" y="1221.5"/>
<use href="#o" x="853.0" y="1221.5"/>
<use href="#o" x="856.2" y="1221.5"/>
<use href="#o" x="859.5" y="1221.5"/>
<use href="#o" x="862.8" y="1221.5"/>
<use href="#o" x="866.0" y="1221.5"/>
<use href="#o" x="869.2" y="1221.5"/>
<use href="#o" x="872.5" y="1221.5"/>
<use href="#o" x="875.8" y="1221.5"/>
<use href="#o" x="879.0" y="1221.5"/>
<use href="#o" x="882.2" y="1221.5"/>
<use href="#o" x="885.5" y="1221.5"/>
<use href="#o" x="888.8" y="1221.5"/>
<use href="#o" x="892.0" y="1221.5"/>
<use href="#o" x="895.2" y="1221.5"/>
<use href="#o" x="898.5" y="1221.5"/>
<use href="#o" x="901.8" y="1221.5"/>
<use href="#o" x="905.0" y="1221.5"/>
<use href="#o" x="908.2" y="1221.5"/>
<use href="#o" x="911.5" y="1221.5"/>
<use href="#o" x="914.8" y="1221.5"/>
<use href="#o" x="918.0" y="1221.5"/>
<use href="#o" x="921.2" y="1221.5"/>
<use href="#o" x="924.5" y="1221.5"/>
<use href="#o" x="927.8" y="1221.5"/>
<use href="#o" x="931.0" y="1221.5"/>
<use href="#o" x="934.2" y="1221.5"/>
<use href="#o" x="937.5" y="1221.5"/>
<use href="#o" x="940.8" y="1221.5"/>
<use href="#o" x="944.0" y="1221.5"/>
<use href="#o" x="947.2" y="1221.5"/>
<use href="#o" x="950.5" y="1221.5"/>
<use href="#o" x="953.8" y="1221.5"/>
<use href="#o" x="957.0" y="1221.5"/>
<use href="#o" x="960.2" y="1221.5"/>
<use href="#o" x="963.5" y="1221.5"/>
<use href="#o" x="966.8" y="1221.5"/>
<use href="#o" x="970.0" y="1221.5"/>
<use href="#o" x="972.0" y="1221.5"/>
<use href="#o" x="975.3" y="1221.5"/>
<use href="#o" x="978.7" y="1221.5"/>
<use href="#o" x="982.0" y="1221.5"/>
<use href="#o" x="988.0" y="1221.5"/>
<use href="#o" x="992.0" y="1221.5"/>
<use href="#o" x="996.0" y="1221.5"/>
<use href="#o" x="1005.0" y="1221.5"/>
<use href="#o" x="1011.0" y="1221.5"/>
<use href="#o" x="1025.0" y="1221.5"/>
<use href="#o" x="1031.0" y="1221.5"/>
<use href="#o" x="1050.0" y="1221.5"/>
<use href="#o" x="1053.8" y="1221.5"/>
<use href="#o" x="1057.5" y="1221.5"/>
<use href="#o" x="1061.2" y="1221.5"/>
<use href="#o" x="1065.0" y="1221.5"/>
<use href="#o" x="1104.0" y="1221.5"/>
<use href="#o" x="1110.0" y="1221.5"/>
<use href="#o" x="1116.0" y="1221.5"/>
<use href="#o" x="1119.5" y="1221.5"/>
<use href="#o" x="1123.0" y="1221.5"/>
</g>
<g fill="#067006">
<use href="#g" x="646.6" y="64.4"/>
<use href="#g" x="644.3" y="159.9"/>
<use href="#g" x="521.4" y="190.6"/>
<use href="#g" x="529.3" y="190.0"/>
<use href="#g" x="502.8" y="202.0"/>
<use href="#g" x="581.7" y="264.6"/>
<use href="#g" x="724.1" y="267.0"/>
<use href="#g" x="696.6" y="283.7"/>
<use href="#g" x="665.5" y="328.8"/>
<use href="#g" x="628.4" y="352.4"/>
<use href="#g" x="578.7" y="369.2"/>
<use href="#g" x="593.8" y="378.1"/>
<use href="#g" x="643.4" y="369.2"/>
<use href="#g" x="703.9" y="418.2"/>
<use href="#g" x="674.3" y="430.0"/>
<use href="#g" x="603.0" y="430.0"/>
<use href="#g" x="597.4" y="434.1"/>
<use href="#g" x="418.0" y="541.3"/>
<use href="#g" x="494.6" y="555.5"/>
<use href="#g" x="352.9" y="634.1"/>
<use href="#g" x="539.4" y="611.9"/>
<use href="#g" x="529.0" y="635.3"/>
<use href="#g" x="359.0" y="779.9"/>
<use href="#g" x="388.6" y="785.1"/>
<use href="#g" x="280.6" y="818.6"/>
<use href="#g" x="396.7" y="840.3"/>
<use href="#g" x="489.6" y="749.0"/>
<use href="#g" x="502.7" y="742.6"/>
<use href="#g" x="496.3" y="759.4"/>
<use href="#g" x="518.6" y="868.9"/>
<use href="#g" x="526.7" y="862.5"/>
<use href="#g" x="488.6" y="906.0"/>
<use href="#g" x="513.7" y="910.3"/>
<use href="#g" x="138.6" y="1036.7"/>
<use href="#g" x="513.3" y="1033.5"/>
<use href="#g" x="544.2" y="484.1"/>
<use href="#g" x="583.7" y="488.0"/>
<use href="#g" x="678.6" y="498.8"/>
<use href="#g" x="674.5" y="517.5"/>
<use href="#g" x="602.8" y="523.1"/>
<use href="#g" x="675.3" y="530.8"/>
<use href="#g" x="682.2" y="531.9"/>
<use href="#g" x="684.8" y="542.2"/>
<use href="#g" x="701.0" y="542.2"/>
<use href="#g" x="695.9" y="555.2"/>
<use href="#g" x="585.4" y="548.9"/>
<use href="#g" x="609.0" y="555.2"/>
<use href="#g" x="597.6" y="560.6"/>
<use href="#g" x="593.7" y="574.6"/>
<use href="#g" x="562.6" y="621.0"/>
<use href="#g" x="644.3" y="608.2"/>
<use href="#g" x="667.9" y="609.3"/>
<use href="#g" x="671.6" y="605.9"/>
<use href="#g" x="563.3" y="644.5"/>
<use href="#g" x="674.8" y="629.0"/>
<use href="#g" x="616.1" y="647.1"/>
<use href="#g" x="681.9" y="657.4"/>
<use href="#g" x="596.5" y="664.8"/>
<use href="#g" x="556.7" y="671.4"/>
<use href="#g" x="560.4" y="676.6"/>
<use href="#g" x="643.2" y="679.5"/>
<use href="#g" x="655.4" y="676.6"/>
<use href="#g" x="625.9" y="696.5"/>
<use href="#g" x="691.5" y="721.5"/>
<use href="#g" x="695.1" y="728.9"/>
<use href="#g" x="670.8" y="729.6"/>
<use href="#g" x="676.0" y="730.8"/>
<use href="#g" x="653.2" y="737.3"/>
<use href="#g" x="662.7" y="739.9"/>
<use href="#g" x="685.9" y="747.7"/>
<use href="#g" x="635.2" y="751.7"/>
<use href="#g" x="677.8" y="759.4"/>
<use href="#g" x="628.1" y="772.3"/>
<use href="#g" x="640.2" y="781.4"/>
<use href="#g" x="659.5" y="787.8"/>
<use href="#g" x="671.6" y="789.2"/>
<use href="#g" x="695.9" y="782.6"/>
<use href="#g" x="554.5" y="795.6"/>
<use href="#g" x="496.6" y="678.8"/>
<use href="#g" x="489.5" y="709.7"/>
<use href="#g" x="681.9" y="806.9"/>
<use href="#g" x="690.0" y="813.6"/>
<use href="#g" x="597.6" y="815.0"/>
<use href="#g" x="608.7" y="818.7"/>
<use href="#g" x="650.2" y="826.5"/>
<use href="#g" x="636.2" y="832.0"/>
<use href="#g" x="677.8" y="829.0"/>
<use href="#g" x="687.8" y="832.7"/>
<use href="#g" x="533.1" y="833.9"/>
<use href="#g" x="543.2" y="842.3"/>
<use href="#g" x="572.5" y="833.9"/>
<use href="#g" x="581.4" y="840.8"/>
<use href="#g" x="610.9" y="836.8"/>
<use href="#g" x="704.7" y="842.3"/>
<use href="#g" x="706.9" y="844.8"/>
<use href="#g" x="671.6" y="854.5"/>
<use href="#g" x="678.9" y="857.5"/>
<use href="#g" x="685.9" y="863.6"/>
<use href="#g" x="695.9" y="862.2"/>
<use href="#g" x="702.5" y="866.6"/>
<use href="#g" x="690.0" y="875.4"/>
<use href="#g" x="700.3" y="873.2"/>
<use href="#g" x="640.2" y="863.6"/>
<use href="#g" x="642.4" y="872.9"/>
<use href="#g" x="639.2" y="881.0"/>
<use href="#g" x="533.1" y="881.0"/>
<use href="#g" x="578.5" y="883.2"/>
<use href="#g" x="606.0" y="890.9"/>
<use href="#g" x="604.9" y="900.2"/>
<use href="#g" x="653.9" y="885.7"/>
<use href="#g" x="658.3" y="889.9"/>
<use href="#g" x="658.3" y="897.2"/>
<use href="#g" x="674.5" y="887.2"/>
<use href="#g" x="700.3" y="892.4"/>
<use href="#g" x="703.2" y="896.0"/>
<use href="#g" x="633.3" y="905.2"/>
<use href="#g" x="649.5" y="902.7"/>
<use href="#g" x="647.0" y="910.8"/>
<use href="#g" x="683.8" y="904.9"/>
<use href="#g" x="700.6" y="907.8"/>
<use href="#g" x="548.3" y="917.0"/>
<use href="#g" x="681.9" y="915.2"/>
<use href="#g" x="671.6" y="921.4"/>
<use href="#g" x="633.3" y="922.3"/>
<use href="#g" x="690.0" y="924.0"/>
<use href="#g" x="704.0" y="921.8"/>
<use href="#g" x="702.5" y="931.7"/>
<use href="#g" x="696.6" y="935.1"/>
<use href="#g" x="583.7" y="927.3"/>
<use href="#g" x="549.3" y="932.1"/>
<use href="#g" x="598.7" y="931.7"/>
<use href="#g" x="606.0" y="939.0"/>
<use href="#g" x="649.5" y="936.1"/>
<use href="#g" x="657.6" y="940.2"/>
<use href="#g" x="674.5" y="937.7"/>
<use href="#g" x="682.6" y="936.5"/>
<use href="#g" x="567.5" y="946.8"/>
<use href="#g" x="693.7" y="950.5"/>
<use href="#g" x="702.9" y="947.9"/>
<use href="#g" x="659.4" y="957.9"/>
<use href="#g" x="667.9" y="963.5"/>
<use href="#g" x="681.9" y="957.2"/>
<use href="#g" x="684.8" y="961.6"/>
<use href="#g" x="540.5" y="963.8"/>
<use href="#g" x="623.4" y="962.0"/>
<use href="#g" x="608.0" y="968.9"/>
<use href="#g" x="669.4" y="974.8"/>
<use href="#g" x="686.7" y="973.4"/>
<use href="#g" x="649.5" y="981.5"/>
<use href="#g" x="673.8" y="981.5"/>
<use href="#g" x="634.0" y="985.9"/>
<use href="#g" x="683.4" y="984.1"/>
<use href="#g" x="690.0" y="988.1"/>
<use href="#g" x="652.4" y="991.0"/>
<use href="#g" x="659.8" y="994.7"/>
<use href="#g" x="673.8" y="991.8"/>
<use href="#g" x="689.3" y="994.0"/>
<use href="#g" x="704.7" y="998.4"/>
<use href="#g" x="572.6" y="995.5"/>
<use href="#g" x="558.2" y="1007.2"/>
<use href="#g" x="596.0" y="1002.8"/>
<use href="#g" x="671.6" y="1003.6"/>
<use href="#g" x="680.9" y="1006.2"/>
<use href="#g" x="693.7" y="1006.2"/>
<use href="#g" x="700.6" y="1003.6"/>
<use href="#g" x="667.9" y="1015.3"/>
<use href="#g" x="681.1" y="1013.9"/>
<use href="#g" x="684.8" y="1016.1"/>
<use href="#g" x="696.6" y="1022.7"/>
<use href="#g" x="701.0" y="1018.6"/>
<use href="#g" x="707.4" y="1015.1"/>
<use href="#g" x="655.4" y="1027.9"/>
<use href="#g" x="707.7" y="1027.1"/>
<use href="#g" x="684.8" y="1031.8"/>
<use href="#g" x="704.7" y="1036.7"/>
<use href="#g" x="678.2" y="1040.4"/>
<use href="#g" x="679.7" y="1045.5"/>
<use href="#g" x="591.6" y="1042.6"/>
<use href="#g" x="576.6" y="1051.4"/>
<use href="#g" x="567.5" y="1060.3"/>
<use href="#g" x="615.6" y="1044.8"/>
<use href="#g" x="613.4" y="1049.2"/>
<use href="#g" x="633.3" y="1051.4"/>
<use href="#g" x="653.2" y="1047.5"/>
<use href="#g" x="607.8" y="1060.3"/>
<use href="#g" x="643.2" y="1061.4"/>
<use href="#g" x="697.1" y="1057.8"/>
<use href="#g" x="621.1" y="1069.1"/>
<use href="#g" x="677.9" y="1069.1"/>
<use href="#g" x="695.1" y="1070.1"/>
<use href="#g" x="644.0" y="1080.9"/>
<use href="#g" x="652.4" y="1078.4"/>
<use href="#g" x="663.5" y="1083.8"/>
<use href="#g" x="684.1" y="1080.1"/>
<use href="#g" x="691.5" y="1077.2"/>
<use href="#g" x="673.0" y="1088.7"/>
<use href="#g" x="690.7" y="1087.5"/>
<use href="#g" x="658.3" y="1092.7"/>
<use href="#g" x="618.6" y="1089.7"/>
<use href="#g" x="613.1" y="1093.7"/>
<use href="#g" x="695.1" y="1097.8"/>
<use href="#g" x="638.1" y="1102.5"/>
<use href="#g" x="671.6" y="1108.1"/>
<use href="#g" x="700.3" y="1108.1"/>
<use href="#g" x="703.2" y="1110.8"/>
<use href="#g" x="685.9" y="1115.8"/>
<use href="#g" x="698.8" y="1117.3"/>
<use href="#g" x="576.6" y="1143.8"/>
<use href="#g" x="645.5" y="1141.7"/>
<use href="#g" x="695.1" y="1138.8"/>
</g><g fill="#ff0000">
<use href="#r" x="1147.0" y="67.5"/>
<use href="#r" x="1217.7" y="464.5"/>
<use href="#r" x="1364.7" y="499.1"/>
<use href="#r" x="1384.3" y="526.3"/>
<use href="#r" x="1370.8" y="575.1"/>
<use href="#r" x="1071.6" y="555.9"/>
<use href="#r" x="1078.9" y="611.3"/>
<use href="#r" x="1095.8" y="620.8"/>
<use href="#r" x="1134.7" y="681.0"/>
<use href="#r" x="1084.8" y="819.4"/>
<use href="#r" x="1087.5" y="852.7"/>
<use href="#r" x="1144.9" y="875.4"/>
<use href="#r" x="1330.3" y="850.0"/>
<use href="#r" x="1100.8" y="920.2"/>
<use href="#r" x="1274.8" y="960.0"/>
<use href="#r" x="1071.5" y="983.5"/>
<use href="#r" x="1099.1" y="1135.7"/>
<use href="#r" x="995.8" y="499.0"/>
<use href="#r" x="980.8" y="540.5"/>
<use href="#r" x="984.4" y="637.3"/>
<use href="#r" x="987.2" y="640.1"/>
<use href="#r" x="989.4" y="663.3"/>
<use href="#r" x="998.8" y="665.0"/>
<use href="#r" x="998.2" y="674.9"/>
<use href="#r" x="974.5" y="731.8"/>
<use href="#r" x="994.9" y="734.8"/>
<use href="#r" x="995.8" y="751.4"/>
<use href="#r" x="996.0" y="754.7"/>
<use href="#r" x="980.8" y="771.8"/>
<use href="#r" x="972.3" y="790.6"/>
<use href="#r" x="977.2" y="787.3"/>
<use href="#r" x="993.8" y="784.9"/>
<use href="#r" x="990.0" y="814.4"/>
<use href="#r" x="985.9" y="826.0"/>
<use href="#r" x="992.2" y="845.9"/>
<use href="#r" x="998.8" y="843.6"/>
<use href="#r" x="976.5" y="261.6"/>
<use href="#r" x="1007.1" y="292.3"/>
<use href="#r" x="987.6" y="363.4"/>
<use href="#r" x="994.9" y="413.8"/>
<use href="#r" x="1009.1" y="508.4"/>
<use href="#r" x="1020.0" y="528.6"/>
<use href="#r" x="1023.2" y="576.9"/>
<use href="#r" x="1024.8" y="642.4"/>
<use href="#r" x="1002.1" y="655.4"/>
<use href="#r" x="1018.0" y="699.5"/>
<use href="#r" x="1026.2" y="717.5"/>
<use href="#r" x="1014.9" y="796.3"/>
<use href="#r" x="1014.4" y="826.0"/>
<use href="#r" x="977.5" y="861.6"/>
<use href="#r" x="1004.8" y="859.2"/>
<use href="#r" x="1025.2" y="860.3"/>
<use href="#r" x="991.7" y="886.3"/>
<use href="#r" x="1023.1" y="894.0"/>
<use href="#r" x="989.6" y="917.8"/>
<use href="#r" x="994.2" y="913.5"/>
<use href="#r" x="1014.8" y="909.5"/>
<use href="#r" x="1029.2" y="913.5"/>
<use href="#r" x="1055.3" y="931.9"/>
<use href="#r" x="989.6" y="944.5"/>
<use href="#r" x="997.9" y="952.7"/>
<use href="#r" x="977.6" y="960.1"/>
<use href="#r" x="981.3" y="961.4"/>
<use href="#r" x="1019.6" y="962.9"/>
<use href="#r" x="1054.2" y="960.1"/>
<use href="#r" x="992.0" y="973.0"/>
<use href="#r" x="1028.3" y="1000.1"/>
<use href="#r" x="996.0" y="1005.2"/>
<use href="#r" x="1010.8" y="1009.5"/>
<use href="#r" x="973.6" y="1032.5"/>
<use href="#r" x="1035.1" y="1030.1"/>
<use href="#r" x="1063.8" y="1030.1"/>
<use href="#r" x="1003.0" y="1038.7"/>
<use href="#r" x="1071.5" y="1080.4"/>
<use href="#r" x="987.8" y="1088.1"/>
<use href="#r" x="1027.0" y="1091.8"/>
<use href="#r" x="972.5" y="1104.7"/>
</g>
</svg></body></html>
